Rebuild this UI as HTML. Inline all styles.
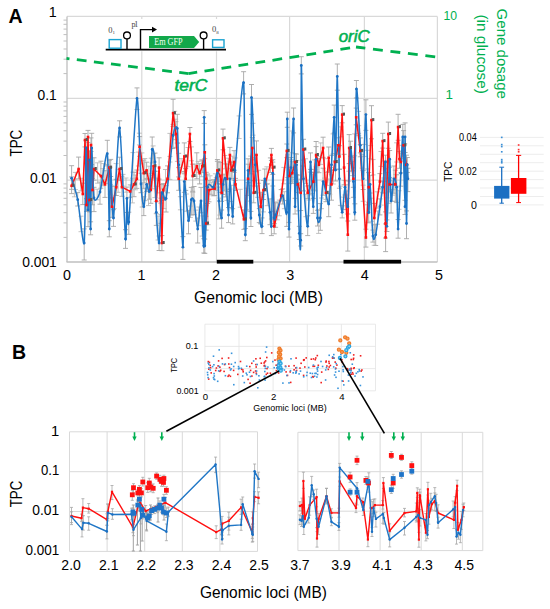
<!DOCTYPE html>
<html><head><meta charset="utf-8"><style>
html,body{margin:0;padding:0;background:#fff;}
svg{display:block;font-family:"Liberation Sans", sans-serif;}
</style></head><body>
<svg width="550" height="609" viewBox="0 0 550 609">
<rect width="550" height="609" fill="#fff"/>
<line x1="67.0" y1="16.4" x2="437.4" y2="16.4" stroke="#d9d9d9" stroke-width="1.2" />
<line x1="67.0" y1="98.3" x2="437.4" y2="98.3" stroke="#d9d9d9" stroke-width="1.2" />
<line x1="67.0" y1="180.1" x2="437.4" y2="180.1" stroke="#d9d9d9" stroke-width="1.2" />
<line x1="141.8" y1="16.4" x2="141.8" y2="262.0" stroke="#d9d9d9" stroke-width="1.2" />
<line x1="216.5" y1="16.4" x2="216.5" y2="262.0" stroke="#d9d9d9" stroke-width="1.2" />
<line x1="289.6" y1="16.4" x2="289.6" y2="262.0" stroke="#d9d9d9" stroke-width="1.2" />
<line x1="364.4" y1="16.4" x2="364.4" y2="262.0" stroke="#d9d9d9" stroke-width="1.2" />
<line x1="437.4" y1="16.4" x2="437.4" y2="262.0" stroke="#d9d9d9" stroke-width="1.2" />
<line x1="67.0" y1="16.4" x2="67.0" y2="262.0" stroke="#bfbfbf" stroke-width="1.3" />
<line x1="66.5" y1="262.0" x2="437.4" y2="262.0" stroke="#bfbfbf" stroke-width="1.3" />
<line x1="63.5" y1="73.6" x2="67.0" y2="73.6" stroke="#bfbfbf" stroke-width="1" />
<line x1="63.5" y1="59.2" x2="67.0" y2="59.2" stroke="#bfbfbf" stroke-width="1" />
<line x1="63.5" y1="49.0" x2="67.0" y2="49.0" stroke="#bfbfbf" stroke-width="1" />
<line x1="63.5" y1="41.0" x2="67.0" y2="41.0" stroke="#bfbfbf" stroke-width="1" />
<line x1="63.5" y1="34.6" x2="67.0" y2="34.6" stroke="#bfbfbf" stroke-width="1" />
<line x1="63.5" y1="29.1" x2="67.0" y2="29.1" stroke="#bfbfbf" stroke-width="1" />
<line x1="63.5" y1="24.3" x2="67.0" y2="24.3" stroke="#bfbfbf" stroke-width="1" />
<line x1="63.5" y1="20.1" x2="67.0" y2="20.1" stroke="#bfbfbf" stroke-width="1" />
<line x1="63.5" y1="155.5" x2="67.0" y2="155.5" stroke="#bfbfbf" stroke-width="1" />
<line x1="63.5" y1="141.1" x2="67.0" y2="141.1" stroke="#bfbfbf" stroke-width="1" />
<line x1="63.5" y1="130.8" x2="67.0" y2="130.8" stroke="#bfbfbf" stroke-width="1" />
<line x1="63.5" y1="122.9" x2="67.0" y2="122.9" stroke="#bfbfbf" stroke-width="1" />
<line x1="63.5" y1="116.4" x2="67.0" y2="116.4" stroke="#bfbfbf" stroke-width="1" />
<line x1="63.5" y1="110.9" x2="67.0" y2="110.9" stroke="#bfbfbf" stroke-width="1" />
<line x1="63.5" y1="106.2" x2="67.0" y2="106.2" stroke="#bfbfbf" stroke-width="1" />
<line x1="63.5" y1="102.0" x2="67.0" y2="102.0" stroke="#bfbfbf" stroke-width="1" />
<line x1="63.5" y1="237.4" x2="67.0" y2="237.4" stroke="#bfbfbf" stroke-width="1" />
<line x1="63.5" y1="222.9" x2="67.0" y2="222.9" stroke="#bfbfbf" stroke-width="1" />
<line x1="63.5" y1="212.7" x2="67.0" y2="212.7" stroke="#bfbfbf" stroke-width="1" />
<line x1="63.5" y1="204.8" x2="67.0" y2="204.8" stroke="#bfbfbf" stroke-width="1" />
<line x1="63.5" y1="198.3" x2="67.0" y2="198.3" stroke="#bfbfbf" stroke-width="1" />
<line x1="63.5" y1="192.8" x2="67.0" y2="192.8" stroke="#bfbfbf" stroke-width="1" />
<line x1="63.5" y1="188.1" x2="67.0" y2="188.1" stroke="#bfbfbf" stroke-width="1" />
<line x1="63.5" y1="183.9" x2="67.0" y2="183.9" stroke="#bfbfbf" stroke-width="1" />
<text x="56.8" y="17.0" font-size="14.3" fill="#000" text-anchor="end" >1</text>
<text x="56.8" y="100.0" font-size="14.3" fill="#000" text-anchor="end" textLength="19.2" lengthAdjust="spacingAndGlyphs" >0.1</text>
<text x="56.8" y="182.5" font-size="14.3" fill="#000" text-anchor="end" textLength="26.9" lengthAdjust="spacingAndGlyphs" >0.01</text>
<text x="56.8" y="266.8" font-size="14.3" fill="#000" text-anchor="end" textLength="34.6" lengthAdjust="spacingAndGlyphs" >0.001</text>
<text x="67.1" y="280.3" font-size="14.3" fill="#000" text-anchor="middle" >0</text>
<text x="141.5" y="280.3" font-size="14.3" fill="#000" text-anchor="middle" >1</text>
<text x="215.9" y="280.3" font-size="14.3" fill="#000" text-anchor="middle" >2</text>
<text x="290.3" y="280.3" font-size="14.3" fill="#000" text-anchor="middle" >3</text>
<text x="364.70000000000005" y="280.3" font-size="14.3" fill="#000" text-anchor="middle" >4</text>
<text x="439.1" y="280.3" font-size="14.3" fill="#000" text-anchor="middle" >5</text>
<text x="258.5" y="303.3" font-size="16.5" fill="#000" text-anchor="middle" textLength="129" lengthAdjust="spacingAndGlyphs" >Genomic loci (MB)</text>
<text x="21.9" y="143.1" font-size="15.8" fill="#000" text-anchor="middle" textLength="26.8" lengthAdjust="spacingAndGlyphs" transform="rotate(-90 21.9 143.1)" >TPC</text>
<text x="8.4" y="23.1" font-size="19.5" fill="#000" font-weight="bold" >A</text>
<rect x="216.8" y="259.8" width="36.5" height="3.8" fill="#000"/>
<rect x="343.5" y="259.8" width="57.6" height="3.8" fill="#000"/>
<text x="443.5" y="20.2" font-size="13.4" fill="#00b050" textLength="13.6" lengthAdjust="spacingAndGlyphs" >10</text>
<text x="445.4" y="99.4" font-size="13.4" fill="#00b050" >1</text>
<text x="497.3" y="53.8" font-size="15.4" fill="#00b050" text-anchor="middle" textLength="90.4" lengthAdjust="spacingAndGlyphs" transform="rotate(90 497.3 53.8)" >Gene dosage</text>
<text x="476.8" y="54.25" font-size="15" fill="#00b050" text-anchor="middle" textLength="79.5" lengthAdjust="spacingAndGlyphs" transform="rotate(90 476.8 54.25)" >(in glucose)</text>
<path d="M71.6,176.9V193.6M69.1,176.9h5M69.1,193.6h5M78.6,157.1V178.9M76.1,157.1h5M76.1,178.9h5M82.8,183.2V204.6M80.3,183.2h5M80.3,204.6h5M85.0,133.5V146.9M82.5,133.5h5M82.5,146.9h5M86.5,198.7V211.4M84.0,198.7h5M84.0,211.4h5M88.0,130.4V142.6M85.5,130.4h5M85.5,142.6h5M89.5,190.2V211.9M87.0,190.2h5M87.0,211.9h5M91.0,137.9V151.5M88.5,137.9h5M88.5,151.5h5M92.5,178.4V204.8M90.0,178.4h5M90.0,204.8h5M94.0,157.8V180.2M91.5,157.8h5M91.5,180.2h5M100.9,161.2V188.2M98.4,161.2h5M98.4,188.2h5M105.0,170.7V197.4M102.5,170.7h5M102.5,197.4h5M109.3,160.3V173.9M106.8,160.3h5M106.8,173.9h5M112.0,197.9V217.3M109.5,197.9h5M109.5,217.3h5M116.3,179.6V195.5M113.8,179.6h5M113.8,195.5h5M119.6,157.2V180.6M117.1,157.2h5M117.1,180.6h5M121.9,176.3V196.3M119.4,176.3h5M119.4,196.3h5M130.2,184.9V197.3M127.7,184.9h5M127.7,197.3h5M134.0,172.3V196.7M131.5,172.3h5M131.5,196.7h5M136.8,170.0V188.4M134.3,170.0h5M134.3,188.4h5M139.6,136.6V156.3M137.1,136.6h5M137.1,156.3h5M143.8,160.1V188.3M141.3,160.1h5M141.3,188.3h5M146.6,162.2V179.3M144.1,162.2h5M144.1,179.3h5M150.8,179.3V203.3M148.3,179.3h5M148.3,203.3h5M153.6,153.6V178.1M151.1,153.6h5M151.1,178.1h5M156.3,186.2V213.7M153.8,186.2h5M153.8,213.7h5M159.1,157.8V179.1M156.6,157.8h5M156.6,179.1h5M161.9,235.6V250.7M159.4,235.6h5M159.4,250.7h5M163.3,183.6V197.2M160.8,183.6h5M160.8,197.2h5M167.5,165.9V192.8M165.0,165.9h5M165.0,192.8h5M173.1,99.3V126.5M170.6,99.3h5M170.6,126.5h5M175.9,121.7V147.4M173.4,121.7h5M173.4,147.4h5M178.7,167.6V190.3M176.2,167.6h5M176.2,190.3h5M184.3,142.9V173.8M181.8,142.9h5M181.8,173.8h5M185.7,168.5V190.4M183.2,168.5h5M183.2,190.4h5M189.9,127.5V141.5M187.4,127.5h5M187.4,141.5h5M192.7,164.2V191.3M190.2,164.2h5M190.2,191.3h5M196.8,152.8V178.8M194.3,152.8h5M194.3,178.8h5M199.6,163.7V183.9M197.1,163.7h5M197.1,183.9h5M202.4,160.0V172.6M199.9,160.0h5M199.9,172.6h5M204.8,144.8V158.7M202.3,144.8h5M202.3,158.7h5M206.2,172.3V186.5M203.7,172.3h5M203.7,186.5h5M206.2,216.3V230.1M203.7,216.3h5M203.7,230.1h5M209.0,180.5V201.8M206.5,180.5h5M206.5,201.8h5M214.6,181.9V195.5M212.1,181.9h5M212.1,195.5h5M217.4,159.5V184.0M214.9,159.5h5M214.9,184.0h5M220.2,162.6V192.5M217.7,162.6h5M217.7,192.5h5M221.6,184.3V201.4M219.1,184.3h5M219.1,201.4h5M223.0,129.1V149.8M220.5,129.1h5M220.5,149.8h5M227.1,164.2V191.6M224.6,164.2h5M224.6,191.6h5M229.9,147.4V161.9M227.4,147.4h5M227.4,161.9h5M231.3,162.3V178.8M228.8,162.3h5M228.8,178.8h5M234.1,150.7V172.5M231.6,150.7h5M231.6,172.5h5M235.5,178.4V190.5M233.0,178.4h5M233.0,190.5h5M243.9,210.0V229.4M241.4,210.0h5M241.4,229.4h5M248.1,164.2V195.5M245.6,164.2h5M245.6,195.5h5M252.3,137.4V159.8M249.8,137.4h5M249.8,159.8h5M253.7,180.7V202.8M251.2,180.7h5M251.2,202.8h5M256.5,140.9V171.8M254.0,140.9h5M254.0,171.8h5M260.7,192.8V223.3M258.2,192.8h5M258.2,223.3h5M263.5,180.5V199.5M261.0,180.5h5M261.0,199.5h5M270.4,157.9V172.5M267.9,157.9h5M267.9,172.5h5M271.4,148.4V160.5M268.9,148.4h5M268.9,160.5h5M272.8,159.7V174.5M270.3,159.7h5M270.3,174.5h5M274.2,217.2V233.8M271.7,217.2h5M271.7,233.8h5M281.2,189.6V200.9M278.7,189.6h5M278.7,200.9h5M286.8,144.0V157.7M284.3,144.0h5M284.3,157.7h5M289.6,169.8V183.7M287.1,169.8h5M287.1,183.7h5M292.3,161.7V183.3M289.8,161.7h5M289.8,183.3h5M295.1,153.7V170.1M292.6,153.7h5M292.6,170.1h5M297.9,175.1V192.4M295.4,175.1h5M295.4,192.4h5M300.7,179.2V210.5M298.2,179.2h5M298.2,210.5h5M303.5,139.3V160.1M301.0,139.3h5M301.0,160.1h5M307.7,186.0V198.6M305.2,186.0h5M305.2,198.6h5M313.3,172.5V190.1M310.8,172.5h5M310.8,190.1h5M316.1,141.5V166.9M313.6,141.5h5M313.6,166.9h5M318.9,158.6V172.7M316.4,158.6h5M316.4,172.7h5M323.1,137.2V157.4M320.6,137.2h5M320.6,157.4h5M325.9,181.9V201.7M323.4,181.9h5M323.4,201.7h5M328.7,147.0V171.7M326.2,147.0h5M326.2,171.7h5M331.5,170.6V200.2M329.0,170.6h5M329.0,200.2h5M334.8,153.6V170.2M332.3,153.6h5M332.3,170.2h5M338.4,137.8V154.2M335.9,137.8h5M335.9,154.2h5M339.4,145.7V169.3M336.9,145.7h5M336.9,169.3h5M342.2,105.6V122.8M339.7,105.6h5M339.7,122.8h5M344.1,154.3V184.8M341.6,154.3h5M341.6,184.8h5M347.8,221.0V251.1M345.3,221.0h5M345.3,251.1h5M349.2,134.6V163.6M346.7,134.6h5M346.7,163.6h5M353.4,170.8V187.3M350.9,170.8h5M350.9,187.3h5M356.2,108.1V124.8M353.7,108.1h5M353.7,124.8h5M360.3,144.6V156.8M357.8,144.6h5M357.8,156.8h5M365.9,229.2V247.1M363.4,229.2h5M363.4,247.1h5M368.7,172.6V202.2M366.2,172.6h5M366.2,202.2h5M371.5,105.7V138.8M369.0,105.7h5M369.0,138.8h5M374.3,203.4V232.3M371.8,203.4h5M371.8,232.3h5M379.9,173.6V188.9M377.4,173.6h5M377.4,188.9h5M382.7,133.3V148.1M380.2,133.3h5M380.2,148.1h5M385.5,211.9V238.0M383.0,211.9h5M383.0,238.0h5M385.6,223.9V251.6M383.1,223.9h5M383.1,251.6h5M388.3,122.1V148.3M385.8,122.1h5M385.8,148.3h5M389.7,177.6V192.0M387.2,177.6h5M387.2,192.0h5M395.3,170.2V201.3M392.8,170.2h5M392.8,201.3h5M398.1,114.3V140.3M395.6,114.3h5M395.6,140.3h5M399.5,151.6V168.3M397.0,151.6h5M397.0,168.3h5M400.8,153.0V172.8M398.3,153.0h5M398.3,172.8h5M403.6,130.6V160.0M401.1,130.6h5M401.1,160.0h5M406.4,155.2V177.0M403.9,155.2h5M403.9,177.0h5" stroke="#a6a6a6" stroke-width="0.9" fill="none"/>
<path d="M71.6,165.7V189.3M69.1,165.7h5M69.1,189.3h5M77.7,192.6V206.0M75.2,192.6h5M75.2,206.0h5M84.2,228.9V260.0M81.7,228.9h5M81.7,260.0h5M86.1,140.7V156.9M83.6,140.7h5M83.6,156.9h5M88.0,195.2V226.7M85.5,195.2h5M85.5,226.7h5M89.5,150.8V169.8M87.0,150.8h5M87.0,169.8h5M90.6,221.8V234.8M88.1,221.8h5M88.1,234.8h5M91.7,133.3V164.6M89.2,133.3h5M89.2,164.6h5M94.0,187.3V211.6M91.5,187.3h5M91.5,211.6h5M100.0,182.1V204.2M97.5,182.1h5M97.5,204.2h5M107.3,140.3V165.9M104.8,140.3h5M104.8,165.9h5M109.3,220.7V236.8M106.8,220.7h5M106.8,236.8h5M110.7,159.4V176.5M108.2,159.4h5M108.2,176.5h5M113.5,209.7V226.4M111.0,209.7h5M111.0,226.4h5M119.6,120.8V137.0M117.1,120.8h5M117.1,137.0h5M125.5,229.7V248.4M123.0,229.7h5M123.0,248.4h5M126.9,187.1V212.5M124.4,187.1h5M124.4,212.5h5M128.8,212.2V234.3M126.3,212.2h5M126.3,234.3h5M137.0,87.9V109.6M134.5,87.9h5M134.5,109.6h5M141.0,173.3V192.7M138.5,173.3h5M138.5,192.7h5M143.8,196.7V215.6M141.3,196.7h5M141.3,215.6h5M146.6,178.4V191.6M144.1,178.4h5M144.1,191.6h5M149.4,183.8V199.2M146.9,183.8h5M146.9,199.2h5M152.2,137.0V163.0M149.7,137.0h5M149.7,163.0h5M155.0,153.1V171.5M152.5,153.1h5M152.5,171.5h5M156.3,201.3V225.4M153.8,201.3h5M153.8,225.4h5M159.1,236.0V250.5M156.6,236.0h5M156.6,250.5h5M161.9,184.6V200.5M159.4,184.6h5M159.4,200.5h5M166.1,185.4V212.0M163.6,185.4h5M163.6,212.0h5M173.1,124.4V148.5M170.6,124.4h5M170.6,148.5h5M177.3,114.3V143.0M174.8,114.3h5M174.8,143.0h5M178.7,153.3V176.9M176.2,153.3h5M176.2,176.9h5M182.9,236.6V259.4M180.4,236.6h5M180.4,259.4h5M184.3,171.5V192.3M181.8,171.5h5M181.8,192.3h5M188.5,210.4V233.8M186.0,210.4h5M186.0,233.8h5M191.3,187.4V214.9M188.8,187.4h5M188.8,214.9h5M194.0,186.5V214.5M191.5,186.5h5M191.5,214.5h5M197.7,218.0V243.0M195.2,218.0h5M195.2,243.0h5M201.0,187.4V212.8M198.5,187.4h5M198.5,212.8h5M203.8,238.7V253.0M201.3,238.7h5M201.3,253.0h5M204.2,110.6V123.4M201.7,110.6h5M201.7,123.4h5M204.8,239.1V253.4M202.3,239.1h5M202.3,253.4h5M207.6,174.1V203.5M205.1,174.1h5M205.1,203.5h5M213.2,179.8V195.8M210.7,179.8h5M210.7,195.8h5M217.4,161.3V183.6M214.9,161.3h5M214.9,183.6h5M218.8,187.1V218.9M216.3,187.1h5M216.3,218.9h5M221.6,210.0V228.2M219.1,210.0h5M219.1,228.2h5M223.0,174.8V194.4M220.5,174.8h5M220.5,194.4h5M225.7,163.9V196.9M223.2,163.9h5M223.2,196.9h5M228.5,207.5V222.6M226.0,207.5h5M226.0,222.6h5M229.9,168.2V189.1M227.4,168.2h5M227.4,189.1h5M232.7,208.7V223.9M230.2,208.7h5M230.2,223.9h5M235.0,157.9V180.5M232.5,157.9h5M232.5,180.5h5M243.6,71.7V93.9M241.1,71.7h5M241.1,93.9h5M245.3,228.5V240.7M242.8,228.5h5M242.8,240.7h5M248.1,158.8V182.7M245.6,158.8h5M245.6,182.7h5M250.9,211.4V226.5M248.4,211.4h5M248.4,226.5h5M251.5,84.5V114.4M249.0,84.5h5M249.0,114.4h5M255.1,157.9V171.3M252.6,157.9h5M252.6,171.3h5M259.3,208.6V222.6M256.8,208.6h5M256.8,222.6h5M262.0,217.9V233.6M259.5,217.9h5M259.5,233.6h5M264.8,169.0V191.1M262.3,169.0h5M262.3,191.1h5M270.0,198.9V224.7M267.5,198.9h5M267.5,224.7h5M271.4,219.0V235.6M268.9,219.0h5M268.9,235.6h5M272.8,162.1V186.0M270.3,162.1h5M270.3,186.0h5M274.2,211.2V223.6M271.7,211.2h5M271.7,223.6h5M275.6,202.8V227.3M273.1,202.8h5M273.1,227.3h5M282.6,188.9V204.0M280.1,188.9h5M280.1,204.0h5M286.8,200.6V226.4M284.3,200.6h5M284.3,226.4h5M287.3,112.2V127.3M284.8,112.2h5M284.8,127.3h5M289.0,222.4V237.1M286.5,222.4h5M286.5,237.1h5M291.0,157.5V177.4M288.5,157.5h5M288.5,177.4h5M293.6,108.0V132.9M291.1,108.0h5M291.1,132.9h5M295.1,198.3V214.0M292.6,198.3h5M292.6,214.0h5M296.5,154.1V174.7M294.0,154.1h5M294.0,174.7h5M299.3,226.3V239.5M296.8,226.3h5M296.8,239.5h5M300.7,233.7V246.0M298.2,233.7h5M298.2,246.0h5M301.3,56.7V73.9M298.8,56.7h5M298.8,73.9h5M303.5,166.0V190.9M301.0,166.0h5M301.0,190.9h5M307.7,215.8V235.6M305.2,215.8h5M305.2,235.6h5M310.5,152.9V169.4M308.0,152.9h5M308.0,169.4h5M313.3,198.4V213.4M310.8,198.4h5M310.8,213.4h5M316.1,146.6V172.7M313.6,146.6h5M313.6,172.7h5M317.5,210.3V226.0M315.0,210.3h5M315.0,226.0h5M320.3,203.6V230.3M317.8,203.6h5M317.8,230.3h5M323.1,168.2V195.2M320.6,168.2h5M320.6,195.2h5M328.7,193.5V216.7M326.2,193.5h5M326.2,216.7h5M331.5,155.3V174.8M329.0,155.3h5M329.0,174.8h5M334.2,105.1V133.0M331.7,105.1h5M331.7,133.0h5M335.5,160.9V181.0M333.0,160.9h5M333.0,181.0h5M337.3,64.0V90.2M334.8,64.0h5M334.8,90.2h5M339.4,169.2V188.2M336.9,169.2h5M336.9,188.2h5M342.2,205.8V217.9M339.7,205.8h5M339.7,217.9h5M345.0,180.6V195.0M342.5,180.6h5M342.5,195.0h5M347.8,198.4V214.0M345.3,198.4h5M345.3,214.0h5M350.6,141.2V156.3M348.1,141.2h5M348.1,156.3h5M353.4,167.8V197.3M350.9,167.8h5M350.9,197.3h5M354.8,203.8V220.2M352.3,203.8h5M352.3,220.2h5M356.4,80.5V98.0M353.9,80.5h5M353.9,98.0h5M360.3,137.9V152.9M357.8,137.9h5M357.8,152.9h5M363.1,170.4V189.5M360.6,170.4h5M360.6,189.5h5M365.9,99.8V130.4M363.4,99.8h5M363.4,130.4h5M368.7,204.1V222.8M366.2,204.1h5M366.2,222.8h5M370.1,175.6V193.0M367.6,175.6h5M367.6,193.0h5M372.9,230.1V242.1M370.4,230.1h5M370.4,242.1h5M375.7,224.4V245.5M373.2,224.4h5M373.2,245.5h5M379.9,198.9V214.9M377.4,198.9h5M377.4,214.9h5M382.7,181.2V192.8M380.2,181.2h5M380.2,192.8h5M385.5,155.2V168.8M383.0,155.2h5M383.0,168.8h5M386.9,219.9V231.5M384.4,219.9h5M384.4,231.5h5M389.7,150.5V167.2M387.2,150.5h5M387.2,167.2h5M391.1,189.7V213.0M388.6,189.7h5M388.6,213.0h5M393.9,166.0V193.2M391.4,166.0h5M391.4,193.2h5M396.7,174.8V202.6M394.2,174.8h5M394.2,202.6h5M398.1,219.5V238.2M395.6,219.5h5M395.6,238.2h5M400.8,158.3V186.2M398.3,158.3h5M398.3,186.2h5M402.8,124.4V150.9M400.3,124.4h5M400.3,150.9h5M405.0,200.3V214.5M402.5,200.3h5M402.5,214.5h5M405.1,122.9V152.5M402.6,122.9h5M402.6,152.5h5M406.5,210.9V238.7M404.0,210.9h5M404.0,238.7h5M407.3,157.5V172.5M404.8,157.5h5M404.8,172.5h5M407.9,168.3V191.6M405.4,168.3h5M405.4,191.6h5" stroke="#a6a6a6" stroke-width="0.9" fill="none"/>
<path d="M75.4,172.4V189.6M72.9,172.4h5M72.9,189.6h5M80.8,178.3V190.9M78.3,178.3h5M78.3,190.9h5M97.6,162.8V183.2M95.1,162.8h5M95.1,183.2h5M102.7,168.6V185.9M100.2,168.6h5M100.2,185.9h5M106.8,164.5V183.4M104.3,164.5h5M104.3,183.4h5M110.3,184.6V194.2M107.8,184.6h5M107.8,194.2h5M114.2,186.5V208.6M111.7,186.5h5M111.7,208.6h5M118.1,169.3V192.3M115.6,169.3h5M115.6,192.3h5M126.0,178.0V192.2M123.5,178.0h5M123.5,192.2h5M132.4,178.2V202.9M129.9,178.2h5M129.9,202.9h5M135.4,175.0V189.8M132.9,175.0h5M132.9,189.8h5M138.4,152.1V166.0M135.9,152.1h5M135.9,166.0h5M141.9,152.9V163.9M139.4,152.9h5M139.4,163.9h5M144.8,158.5V182.7M142.3,158.5h5M142.3,182.7h5M148.9,166.2V187.3M146.4,166.2h5M146.4,187.3h5M152.4,175.3V188.8M149.9,175.3h5M149.9,188.8h5M154.9,171.0V197.6M152.4,171.0h5M152.4,197.6h5M157.7,178.1V192.9M155.2,178.1h5M155.2,192.9h5M160.8,198.2V214.6M158.3,198.2h5M158.3,214.6h5M165.5,169.5V191.3M163.0,169.5h5M163.0,191.3h5M169.9,133.4V156.4M167.4,133.4h5M167.4,156.4h5M174.7,111.3V134.8M172.2,111.3h5M172.2,134.8h5M177.4,143.2V161.4M174.9,143.2h5M174.9,161.4h5M181.1,158.6V172.9M178.6,158.6h5M178.6,172.9h5M188.0,147.5V166.7M185.5,147.5h5M185.5,166.7h5M191.5,146.9V160.8M189.0,146.9h5M189.0,160.8h5M194.8,164.1V176.4M192.3,164.1h5M192.3,176.4h5M198.2,161.4V172.3M195.7,161.4h5M195.7,172.3h5M201.4,160.0V176.7M198.9,160.0h5M198.9,176.7h5M208.1,199.1V224.7M205.6,199.1h5M205.6,224.7h5M211.3,182.1V194.7M208.8,182.1h5M208.8,194.7h5M216.3,177.6V189.2M213.8,177.6h5M213.8,189.2h5M218.7,161.4V181.6M216.2,161.4h5M216.2,181.6h5M224.8,155.5V168.8M222.3,155.5h5M222.3,168.8h5M228.2,158.2V178.2M225.7,158.2h5M225.7,178.2h5M232.3,156.2V178.9M229.8,156.2h5M229.8,178.9h5M240.2,189.3V207.2M237.7,189.3h5M237.7,207.2h5M246.3,188.2V209.4M243.8,188.2h5M243.8,209.4h5M250.6,156.1V173.9M248.1,156.1h5M248.1,173.9h5M254.8,166.9V186.2M252.3,166.9h5M252.3,186.2h5M258.6,170.3V183.3M256.1,170.3h5M256.1,183.3h5M261.6,192.2V205.8M259.1,192.2h5M259.1,205.8h5M266.9,166.8V184.5M264.4,166.8h5M264.4,184.5h5M277.3,201.9V219.8M274.8,201.9h5M274.8,219.8h5M283.8,167.4V183.8M281.3,167.4h5M281.3,183.8h5M287.7,154.8V177.5M285.2,154.8h5M285.2,177.5h5M291.3,159.6V181.7M288.8,159.6h5M288.8,181.7h5M294.1,161.0V179.4M291.6,161.0h5M291.6,179.4h5M296.9,160.6V185.2M294.4,160.6h5M294.4,185.2h5M299.2,182.5V192.7M296.7,182.5h5M296.7,192.7h5M302.6,166.0V177.1M300.1,166.0h5M300.1,177.1h5M305.5,158.8V183.5M303.0,158.8h5M303.0,183.5h5M310.3,172.1V194.9M307.8,172.1h5M307.8,194.9h5M314.3,159.9V182.3M311.8,159.9h5M311.8,182.3h5M317.3,156.6V171.5M314.8,156.6h5M314.8,171.5h5M320.7,142.9V164.4M318.2,142.9h5M318.2,164.4h5M324.5,158.7V178.1M322.0,158.7h5M322.0,178.1h5M327.2,172.4V185.4M324.7,172.4h5M324.7,185.4h5M330.5,167.6V179.0M328.0,167.6h5M328.0,179.0h5M333.3,169.7V184.0M330.8,169.7h5M330.8,184.0h5M337.0,144.5V162.7M334.5,144.5h5M334.5,162.7h5M341.0,126.9V136.8M338.5,126.9h5M338.5,136.8h5M346.2,191.0V209.5M343.7,191.0h5M343.7,209.5h5M351.6,157.4V171.0M349.1,157.4h5M349.1,171.0h5M354.6,133.9V155.8M352.1,133.9h5M352.1,155.8h5M358.7,125.7V135.7M356.2,125.7h5M356.2,135.7h5M363.1,185.2V201.3M360.6,185.2h5M360.6,201.3h5M367.1,204.8V222.3M364.6,204.8h5M364.6,222.3h5M370.6,145.6V158.8M368.1,145.6h5M368.1,158.8h5M373.1,159.6V174.9M370.6,159.6h5M370.6,174.9h5M377.2,191.8V208.1M374.7,191.8h5M374.7,208.1h5M381.0,151.5V166.4M378.5,151.5h5M378.5,166.4h5M383.8,178.0V193.1M381.3,178.0h5M381.3,193.1h5M386.9,172.5V197.9M384.4,172.5h5M384.4,197.9h5M392.9,180.8V195.2M390.4,180.8h5M390.4,195.2h5M396.6,142.8V162.0M394.1,142.8h5M394.1,162.0h5M401.9,145.3V156.7M399.4,145.3h5M399.4,156.7h5M404.8,143.8V161.4M402.3,143.8h5M402.3,161.4h5M74.4,179.2V196.8M71.9,179.2h5M71.9,196.8h5M81.0,216.2V231.7M78.5,216.2h5M78.5,231.7h5M97.2,189.2V199.8M94.7,189.2h5M94.7,199.8h5M103.6,163.6V184.9M101.1,163.6h5M101.1,184.9h5M112.0,185.9V197.8M109.5,185.9h5M109.5,197.8h5M116.1,163.6V179.2M113.6,163.6h5M113.6,179.2h5M123.0,174.4V186.1M120.5,174.4h5M120.5,186.1h5M132.9,152.6V172.2M130.4,152.6h5M130.4,172.2h5M139.4,133.2V144.9M136.9,133.2h5M136.9,144.9h5M142.2,182.7V207.0M139.7,182.7h5M139.7,207.0h5M145.1,188.7V200.6M142.6,188.7h5M142.6,200.6h5M148.5,179.1V205.6M146.0,179.1h5M146.0,205.6h5M151.2,158.2V173.6M148.7,158.2h5M148.7,173.6h5M153.1,145.9V168.8M150.6,145.9h5M150.6,168.8h5M158.1,216.1V240.0M155.6,216.1h5M155.6,240.0h5M160.6,203.1V223.4M158.1,203.1h5M158.1,223.4h5M163.9,188.5V208.6M161.4,188.5h5M161.4,208.6h5M169.9,162.0V179.4M167.4,162.0h5M167.4,179.4h5M175.7,119.2V139.6M173.2,119.2h5M173.2,139.6h5M180.4,196.7V209.8M177.9,196.7h5M177.9,209.8h5M186.4,194.0V211.2M183.9,194.0h5M183.9,211.2h5M190.3,206.1V217.4M187.8,206.1h5M187.8,217.4h5M192.8,192.4V215.0M190.3,192.4h5M190.3,215.0h5M195.8,210.1V221.1M193.3,210.1h5M193.3,221.1h5M198.9,207.0V225.7M196.4,207.0h5M196.4,225.7h5M202.1,215.9V236.1M199.6,215.9h5M199.6,236.1h5M206.3,205.7V224.8M203.8,205.7h5M203.8,224.8h5M210.0,175.8V194.2M207.5,175.8h5M207.5,194.2h5M215.4,173.8V190.5M212.9,173.8h5M212.9,190.5h5M219.8,198.1V215.1M217.3,198.1h5M217.3,215.1h5M224.4,174.1V190.5M221.9,174.1h5M221.9,190.5h5M227.0,189.5V200.4M224.5,189.5h5M224.5,200.4h5M231.4,185.3V201.5M228.9,185.3h5M228.9,201.5h5M239.1,115.9V138.5M236.6,115.9h5M236.6,138.5h5M247.2,195.5V211.0M244.7,195.5h5M244.7,211.0h5M249.9,185.7V201.1M247.4,185.7h5M247.4,201.1h5M253.0,123.3V135.2M250.5,123.3h5M250.5,135.2h5M257.7,185.9V197.3M255.2,185.9h5M255.2,197.3h5M260.5,208.3V223.9M258.0,208.3h5M258.0,223.9h5M263.4,194.5V211.9M260.9,194.5h5M260.9,211.9h5M267.3,183.5V205.7M264.8,183.5h5M264.8,205.7h5M279.3,200.1V215.8M276.8,200.1h5M276.8,215.8h5M284.4,191.7V208.7M281.9,191.7h5M281.9,208.7h5M292.1,131.0V152.8M289.6,131.0h5M289.6,152.8h5M298.1,185.6V210.9M295.6,185.6h5M295.6,210.9h5M305.9,194.3V216.7M303.4,194.3h5M303.4,216.7h5M309.1,185.4V200.0M306.6,185.4h5M306.6,200.0h5M312.4,174.4V193.6M309.9,174.4h5M309.9,193.6h5M315.0,169.4V190.9M312.5,169.4h5M312.5,190.9h5M318.6,209.6V233.4M316.1,209.6h5M316.1,233.4h5M321.5,198.0V208.7M319.0,198.0h5M319.0,208.7h5M325.9,180.0V199.4M323.4,180.0h5M323.4,199.4h5M329.8,172.5V194.3M327.3,172.5h5M327.3,194.3h5M333.0,133.9V154.0M330.5,133.9h5M330.5,154.0h5M340.4,186.2V205.4M337.9,186.2h5M337.9,205.4h5M343.3,197.1V209.6M340.8,197.1h5M340.8,209.6h5M346.0,184.8V201.6M343.5,184.8h5M343.5,201.6h5M348.8,171.2V181.2M346.3,171.2h5M346.3,181.2h5M352.4,161.7V175.6M349.9,161.7h5M349.9,175.6h5M358.6,111.4V133.4M356.1,111.4h5M356.1,133.4h5M362.1,154.5V168.1M359.6,154.5h5M359.6,168.1h5M364.2,144.4V156.4M361.7,144.4h5M361.7,156.4h5M367.5,150.3V169.0M365.0,150.3h5M365.0,169.0h5M371.7,198.2V221.3M369.2,198.2h5M369.2,221.3h5M374.2,225.0V245.3M371.7,225.0h5M371.7,245.3h5M377.5,211.0V224.2M375.0,211.0h5M375.0,224.2h5M381.1,186.4V205.1M378.6,186.4h5M378.6,205.1h5M384.6,161.0V181.5M382.1,161.0h5M382.1,181.5h5M388.8,178.5V203.4M386.3,178.5h5M386.3,203.4h5M392.4,185.0V201.4M389.9,185.0h5M389.9,201.4h5M395.6,174.4V189.7M393.1,174.4h5M393.1,189.7h5M399.0,190.7V209.3M396.5,190.7h5M396.5,209.3h5" stroke="#b4b4b4" stroke-width="0.8" fill="none"/>
<polyline points="71.6,185.8 78.6,169.0 82.8,194.0 85.0,140.0 86.5,205.0 88.0,137.0 89.5,200.0 91.0,145.0 92.5,190.0 94.0,169.0 100.9,176.0 105.0,184.4 109.3,167.6 112.0,206.7 116.3,187.2 119.6,169.0 121.9,187.2 130.2,191.4 134.0,184.4 136.8,178.8 139.6,146.7 143.8,173.2 146.6,170.4 150.8,190.0 153.6,166.2 156.3,201.0 159.1,167.6 161.9,243.0 163.3,190.0 167.5,178.8 173.1,113.2 175.9,134.0 178.7,178.8 184.3,156.5 185.7,178.8 189.9,134.0 192.7,176.0 196.8,166.2 199.6,173.2 202.4,166.2 204.8,152.3 206.2,178.8 206.2,223.5 209.0,190.0 214.6,188.6 217.4,170.4 220.2,176.0 221.6,192.8 223.0,138.3 227.1,178.8 229.9,155.0 231.3,170.4 234.1,162.0 235.5,184.4 243.9,219.3 248.1,178.8 252.3,148.0 253.7,192.8 256.5,155.0 260.7,206.7 263.5,190.0 270.4,164.8 271.4,155.0 272.8,167.6 274.2,226.3 281.2,195.6 286.8,150.9 289.6,176.0 292.3,173.2 295.1,162.0 297.9,184.4 300.7,192.8 303.5,149.5 307.7,192.8 313.3,181.6 316.1,155.0 318.9,164.8 323.1,148.0 325.9,192.8 328.7,157.8 331.5,184.4 334.8,162.0 338.4,145.3 339.4,156.5 342.2,114.6 344.1,167.6 347.8,234.7 349.2,148.0 353.4,178.8 356.2,117.3 360.3,150.9 365.9,237.5 368.7,187.2 371.5,120.1 374.3,218.0 379.9,181.6 382.7,141.1 385.5,223.5 385.6,237.5 388.3,134.0 389.7,184.4 395.3,184.4 398.1,127.1 399.5,159.2 400.8,162.0 403.6,145.3 406.4,164.8" fill="none" stroke="#ff1010" stroke-width="1.5" stroke-linejoin="round"/>
<path d="M71.6,178.2 C72.4,180.9 76.1,191.6 77.7,199.7 C79.3,207.8 83.2,249.5 84.2,243.0 C85.2,236.5 85.6,152.1 86.1,148.0 C86.6,143.9 87.6,208.5 88.0,210.0 C88.4,211.5 89.2,157.6 89.5,160.0 C89.8,162.4 90.3,230.5 90.6,229.0 C90.9,227.5 91.3,151.9 91.7,148.0 C92.1,144.1 93.0,192.5 94.0,198.0 C95.0,203.5 98.3,197.5 100.0,192.0 C101.7,186.5 106.1,149.1 107.3,153.7 C108.5,158.3 108.9,227.3 109.3,229.0 C109.7,230.7 110.2,169.0 110.7,167.6 C111.2,166.2 112.4,222.9 113.5,218.0 C114.6,213.1 118.1,125.4 119.6,128.0 C121.1,130.6 124.6,230.1 125.5,238.9 C126.4,247.7 126.5,200.5 126.9,198.4 C127.3,196.3 127.5,234.5 128.8,222.0 C130.1,209.5 135.5,103.2 137.0,98.4 C138.5,93.7 140.2,170.5 141.0,184.0 C141.8,197.5 143.1,206.6 143.8,206.7 C144.5,206.8 145.9,186.3 146.6,184.4 C147.3,182.5 148.7,195.8 149.4,191.4 C150.1,187.0 151.5,153.2 152.2,149.5 C152.9,145.8 154.5,154.2 155.0,162.0 C155.5,169.8 155.8,202.2 156.3,212.3 C156.8,222.4 158.4,245.4 159.1,243.0 C159.8,240.6 161.0,198.4 161.9,192.8 C162.8,187.2 164.7,205.6 166.1,198.4 C167.5,191.2 171.7,144.2 173.1,135.5 C174.5,126.8 176.6,124.8 177.3,128.5 C178.0,132.2 178.0,150.0 178.7,164.8 C179.4,179.6 182.2,245.1 182.9,247.2 C183.6,249.3 183.6,184.9 184.3,181.6 C185.0,178.3 187.6,218.4 188.5,220.7 C189.4,223.0 190.6,202.2 191.3,199.7 C192.0,197.2 193.2,197.3 194.0,201.0 C194.8,204.7 196.8,229.0 197.7,229.0 C198.6,229.0 200.2,198.9 201.0,201.0 C201.8,203.1 203.4,256.3 203.8,245.8 C204.2,235.3 204.1,117.3 204.2,117.3 C204.3,117.3 204.4,237.1 204.8,245.8 C205.2,254.5 206.6,194.5 207.6,187.2 C208.6,179.9 212.0,188.9 213.2,187.2 C214.4,185.4 216.7,171.5 217.4,173.2 C218.1,174.9 218.3,195.4 218.8,201.0 C219.3,206.6 221.1,220.1 221.6,218.0 C222.1,215.9 222.5,189.3 223.0,184.4 C223.5,179.5 225.0,175.0 225.7,178.8 C226.4,182.6 228.0,215.0 228.5,215.0 C229.0,215.0 229.4,178.6 229.9,178.8 C230.4,179.0 232.1,217.6 232.7,216.5 C233.3,215.4 233.6,187.1 235.0,170.4 C236.4,153.7 242.3,74.7 243.6,82.7 C244.9,90.7 244.7,223.7 245.3,234.7 C245.9,245.7 247.4,172.5 248.1,170.4 C248.8,168.3 250.5,227.1 250.9,218.0 C251.3,208.9 251.0,104.2 251.5,97.6 C252.0,90.9 254.1,150.1 255.1,164.8 C256.1,179.5 258.4,207.3 259.3,215.0 C260.2,222.7 261.3,230.8 262.0,226.3 C262.7,221.8 263.8,180.6 264.8,178.8 C265.8,177.1 269.2,206.4 270.0,212.3 C270.8,218.2 271.0,231.2 271.4,226.3 C271.8,221.4 272.4,174.2 272.8,173.2 C273.2,172.2 273.8,212.8 274.2,218.0 C274.6,223.2 274.6,217.8 275.6,215.0 C276.7,212.2 281.2,195.9 282.6,195.6 C284.0,195.3 286.2,221.9 286.8,212.3 C287.4,202.7 287.0,116.9 287.3,119.0 C287.6,121.1 288.5,222.9 289.0,229.0 C289.5,235.1 290.4,181.3 291.0,167.6 C291.6,153.8 293.1,114.1 293.6,119.0 C294.1,123.9 294.7,201.0 295.1,206.7 C295.5,212.4 296.0,161.5 296.5,164.8 C297.0,168.1 298.8,223.9 299.3,233.3 C299.8,242.7 300.4,261.2 300.7,240.2 C300.9,219.2 300.9,73.2 301.3,65.5 C301.7,57.8 302.7,158.7 303.5,178.8 C304.3,198.9 306.8,228.4 307.7,226.3 C308.6,224.2 309.8,164.4 310.5,162.0 C311.2,159.6 312.6,207.0 313.3,206.7 C314.0,206.3 315.6,157.8 316.1,159.2 C316.6,160.6 317.0,210.7 317.5,218.0 C318.0,225.3 319.6,222.6 320.3,218.0 C321.0,213.4 322.1,183.3 323.1,181.6 C324.2,179.8 327.6,206.1 328.7,204.0 C329.8,201.9 330.8,175.6 331.5,164.8 C332.2,154.0 333.7,116.7 334.2,117.3 C334.7,117.9 335.1,175.1 335.5,170.0 C335.9,164.9 336.8,75.3 337.3,76.4 C337.8,77.5 338.8,161.8 339.4,178.8 C340.0,195.8 341.5,211.2 342.2,212.3 C342.9,213.4 344.3,187.9 345.0,187.2 C345.7,186.5 347.1,211.6 347.8,206.7 C348.5,201.8 349.9,151.1 350.6,148.0 C351.3,144.9 352.9,173.6 353.4,181.6 C353.9,189.6 354.4,223.9 354.8,212.3 C355.2,200.7 355.7,97.5 356.4,89.1 C357.1,80.7 359.5,134.1 360.3,145.3 C361.1,156.5 362.4,182.6 363.1,178.8 C363.8,175.0 365.2,110.4 365.9,114.6 C366.6,118.8 368.2,203.6 368.7,212.3 C369.2,221.0 369.6,181.4 370.1,184.4 C370.6,187.4 372.2,229.8 372.9,236.1 C373.6,242.4 374.8,238.4 375.7,234.7 C376.6,231.0 379.0,212.6 379.9,206.7 C380.8,200.8 382.0,192.8 382.7,187.2 C383.4,181.6 385.0,157.1 385.5,162.0 C386.0,166.9 386.4,226.7 386.9,226.3 C387.4,226.0 389.2,162.4 389.7,159.2 C390.2,156.0 390.6,198.6 391.1,201.0 C391.6,203.4 393.2,180.5 393.9,178.8 C394.6,177.1 396.2,180.9 396.7,187.2 C397.2,193.5 397.6,230.8 398.1,229.0 C398.6,227.2 400.2,184.7 400.8,173.2 C401.4,161.7 402.3,132.7 402.8,136.9 C403.3,141.1 404.7,206.7 405.0,206.7 C405.3,206.7 404.9,134.8 405.1,136.9 C405.3,139.0 406.2,220.0 406.5,223.5 C406.8,227.0 407.1,170.4 407.3,164.8 C407.5,159.2 407.8,177.1 407.9,178.8" fill="none" stroke="#1f76c6" stroke-width="1.5" stroke-linejoin="round"/>
<g fill="#ff1010"><rect x="70.3" y="184.5" width="2.6" height="2.6"/><rect x="77.3" y="167.7" width="2.6" height="2.6"/><rect x="81.5" y="192.7" width="2.6" height="2.6"/><rect x="83.7" y="138.7" width="2.6" height="2.6"/><rect x="85.2" y="203.7" width="2.6" height="2.6"/><rect x="86.7" y="135.7" width="2.6" height="2.6"/><rect x="88.2" y="198.7" width="2.6" height="2.6"/><rect x="89.7" y="143.7" width="2.6" height="2.6"/><rect x="91.2" y="188.7" width="2.6" height="2.6"/><rect x="92.7" y="167.7" width="2.6" height="2.6"/><rect x="99.6" y="174.7" width="2.6" height="2.6"/><rect x="103.7" y="183.1" width="2.6" height="2.6"/><rect x="108.0" y="166.3" width="2.6" height="2.6"/><rect x="110.7" y="205.4" width="2.6" height="2.6"/><rect x="115.0" y="185.9" width="2.6" height="2.6"/><rect x="118.3" y="167.7" width="2.6" height="2.6"/><rect x="120.6" y="185.9" width="2.6" height="2.6"/><rect x="128.9" y="190.1" width="2.6" height="2.6"/><rect x="132.7" y="183.1" width="2.6" height="2.6"/><rect x="135.5" y="177.5" width="2.6" height="2.6"/><rect x="138.3" y="145.4" width="2.6" height="2.6"/><rect x="142.5" y="171.9" width="2.6" height="2.6"/><rect x="145.3" y="169.1" width="2.6" height="2.6"/><rect x="149.5" y="188.7" width="2.6" height="2.6"/><rect x="152.3" y="164.9" width="2.6" height="2.6"/><rect x="155.0" y="199.7" width="2.6" height="2.6"/><rect x="157.8" y="166.3" width="2.6" height="2.6"/><rect x="160.6" y="241.7" width="2.6" height="2.6"/><rect x="162.0" y="188.7" width="2.6" height="2.6"/><rect x="166.2" y="177.5" width="2.6" height="2.6"/><rect x="171.8" y="111.9" width="2.6" height="2.6"/><rect x="174.6" y="132.7" width="2.6" height="2.6"/><rect x="177.4" y="177.5" width="2.6" height="2.6"/><rect x="183.0" y="155.2" width="2.6" height="2.6"/><rect x="184.4" y="177.5" width="2.6" height="2.6"/><rect x="188.6" y="132.7" width="2.6" height="2.6"/><rect x="191.4" y="174.7" width="2.6" height="2.6"/><rect x="195.5" y="164.9" width="2.6" height="2.6"/><rect x="198.3" y="171.9" width="2.6" height="2.6"/><rect x="201.1" y="164.9" width="2.6" height="2.6"/><rect x="203.5" y="151.0" width="2.6" height="2.6"/><rect x="204.9" y="177.5" width="2.6" height="2.6"/><rect x="204.9" y="222.2" width="2.6" height="2.6"/><rect x="207.7" y="188.7" width="2.6" height="2.6"/><rect x="213.3" y="187.3" width="2.6" height="2.6"/><rect x="216.1" y="169.1" width="2.6" height="2.6"/><rect x="218.9" y="174.7" width="2.6" height="2.6"/><rect x="220.3" y="191.5" width="2.6" height="2.6"/><rect x="221.7" y="137.0" width="2.6" height="2.6"/><rect x="225.8" y="177.5" width="2.6" height="2.6"/><rect x="228.6" y="153.7" width="2.6" height="2.6"/><rect x="230.0" y="169.1" width="2.6" height="2.6"/><rect x="232.8" y="160.7" width="2.6" height="2.6"/><rect x="234.2" y="183.1" width="2.6" height="2.6"/><rect x="242.6" y="218.0" width="2.6" height="2.6"/><rect x="246.8" y="177.5" width="2.6" height="2.6"/><rect x="251.0" y="146.7" width="2.6" height="2.6"/><rect x="252.4" y="191.5" width="2.6" height="2.6"/><rect x="255.2" y="153.7" width="2.6" height="2.6"/><rect x="259.4" y="205.4" width="2.6" height="2.6"/><rect x="262.2" y="188.7" width="2.6" height="2.6"/><rect x="269.1" y="163.5" width="2.6" height="2.6"/><rect x="270.1" y="153.7" width="2.6" height="2.6"/><rect x="271.5" y="166.3" width="2.6" height="2.6"/><rect x="272.9" y="225.0" width="2.6" height="2.6"/><rect x="279.9" y="194.3" width="2.6" height="2.6"/><rect x="285.5" y="149.6" width="2.6" height="2.6"/><rect x="288.3" y="174.7" width="2.6" height="2.6"/><rect x="291.0" y="171.9" width="2.6" height="2.6"/><rect x="293.8" y="160.7" width="2.6" height="2.6"/><rect x="296.6" y="183.1" width="2.6" height="2.6"/><rect x="299.4" y="191.5" width="2.6" height="2.6"/><rect x="302.2" y="148.2" width="2.6" height="2.6"/><rect x="306.4" y="191.5" width="2.6" height="2.6"/><rect x="312.0" y="180.3" width="2.6" height="2.6"/><rect x="314.8" y="153.7" width="2.6" height="2.6"/><rect x="317.6" y="163.5" width="2.6" height="2.6"/><rect x="321.8" y="146.7" width="2.6" height="2.6"/><rect x="324.6" y="191.5" width="2.6" height="2.6"/><rect x="327.4" y="156.5" width="2.6" height="2.6"/><rect x="330.2" y="183.1" width="2.6" height="2.6"/><rect x="333.5" y="160.7" width="2.6" height="2.6"/><rect x="337.1" y="144.0" width="2.6" height="2.6"/><rect x="338.1" y="155.2" width="2.6" height="2.6"/><rect x="340.9" y="113.3" width="2.6" height="2.6"/><rect x="342.8" y="166.3" width="2.6" height="2.6"/><rect x="346.5" y="233.4" width="2.6" height="2.6"/><rect x="347.9" y="146.7" width="2.6" height="2.6"/><rect x="352.1" y="177.5" width="2.6" height="2.6"/><rect x="354.9" y="116.0" width="2.6" height="2.6"/><rect x="359.0" y="149.6" width="2.6" height="2.6"/><rect x="364.6" y="236.2" width="2.6" height="2.6"/><rect x="367.4" y="185.9" width="2.6" height="2.6"/><rect x="370.2" y="118.8" width="2.6" height="2.6"/><rect x="373.0" y="216.7" width="2.6" height="2.6"/><rect x="378.6" y="180.3" width="2.6" height="2.6"/><rect x="381.4" y="139.8" width="2.6" height="2.6"/><rect x="384.2" y="222.2" width="2.6" height="2.6"/><rect x="384.3" y="236.2" width="2.6" height="2.6"/><rect x="387.0" y="132.7" width="2.6" height="2.6"/><rect x="388.4" y="183.1" width="2.6" height="2.6"/><rect x="394.0" y="183.1" width="2.6" height="2.6"/><rect x="396.8" y="125.8" width="2.6" height="2.6"/><rect x="398.2" y="157.9" width="2.6" height="2.6"/><rect x="399.5" y="160.7" width="2.6" height="2.6"/><rect x="402.3" y="144.0" width="2.6" height="2.6"/><rect x="405.1" y="163.5" width="2.6" height="2.6"/></g>
<g fill="#1a6fc2"><circle cx="71.6" cy="178.2" r="1.4"/><circle cx="77.7" cy="199.7" r="1.4"/><circle cx="84.2" cy="243.0" r="1.4"/><circle cx="86.1" cy="148.0" r="1.4"/><circle cx="88.0" cy="210.0" r="1.4"/><circle cx="89.5" cy="160.0" r="1.4"/><circle cx="90.6" cy="229.0" r="1.4"/><circle cx="91.7" cy="148.0" r="1.4"/><circle cx="94.0" cy="198.0" r="1.4"/><circle cx="100.0" cy="192.0" r="1.4"/><circle cx="107.3" cy="153.7" r="1.4"/><circle cx="109.3" cy="229.0" r="1.4"/><circle cx="110.7" cy="167.6" r="1.4"/><circle cx="113.5" cy="218.0" r="1.4"/><circle cx="119.6" cy="128.0" r="1.4"/><circle cx="125.5" cy="238.9" r="1.4"/><circle cx="126.9" cy="198.4" r="1.4"/><circle cx="128.8" cy="222.0" r="1.4"/><circle cx="137.0" cy="98.4" r="1.4"/><circle cx="141.0" cy="184.0" r="1.4"/><circle cx="143.8" cy="206.7" r="1.4"/><circle cx="146.6" cy="184.4" r="1.4"/><circle cx="149.4" cy="191.4" r="1.4"/><circle cx="152.2" cy="149.5" r="1.4"/><circle cx="155.0" cy="162.0" r="1.4"/><circle cx="156.3" cy="212.3" r="1.4"/><circle cx="159.1" cy="243.0" r="1.4"/><circle cx="161.9" cy="192.8" r="1.4"/><circle cx="166.1" cy="198.4" r="1.4"/><circle cx="173.1" cy="135.5" r="1.4"/><circle cx="177.3" cy="128.5" r="1.4"/><circle cx="178.7" cy="164.8" r="1.4"/><circle cx="182.9" cy="247.2" r="1.4"/><circle cx="184.3" cy="181.6" r="1.4"/><circle cx="188.5" cy="220.7" r="1.4"/><circle cx="191.3" cy="199.7" r="1.4"/><circle cx="194.0" cy="201.0" r="1.4"/><circle cx="197.7" cy="229.0" r="1.4"/><circle cx="201.0" cy="201.0" r="1.4"/><circle cx="203.8" cy="245.8" r="1.4"/><circle cx="204.2" cy="117.3" r="1.4"/><circle cx="204.8" cy="245.8" r="1.4"/><circle cx="207.6" cy="187.2" r="1.4"/><circle cx="213.2" cy="187.2" r="1.4"/><circle cx="217.4" cy="173.2" r="1.4"/><circle cx="218.8" cy="201.0" r="1.4"/><circle cx="221.6" cy="218.0" r="1.4"/><circle cx="223.0" cy="184.4" r="1.4"/><circle cx="225.7" cy="178.8" r="1.4"/><circle cx="228.5" cy="215.0" r="1.4"/><circle cx="229.9" cy="178.8" r="1.4"/><circle cx="232.7" cy="216.5" r="1.4"/><circle cx="235.0" cy="170.4" r="1.4"/><circle cx="243.6" cy="82.7" r="1.4"/><circle cx="245.3" cy="234.7" r="1.4"/><circle cx="248.1" cy="170.4" r="1.4"/><circle cx="250.9" cy="218.0" r="1.4"/><circle cx="251.5" cy="97.6" r="1.4"/><circle cx="255.1" cy="164.8" r="1.4"/><circle cx="259.3" cy="215.0" r="1.4"/><circle cx="262.0" cy="226.3" r="1.4"/><circle cx="264.8" cy="178.8" r="1.4"/><circle cx="270.0" cy="212.3" r="1.4"/><circle cx="271.4" cy="226.3" r="1.4"/><circle cx="272.8" cy="173.2" r="1.4"/><circle cx="274.2" cy="218.0" r="1.4"/><circle cx="275.6" cy="215.0" r="1.4"/><circle cx="282.6" cy="195.6" r="1.4"/><circle cx="286.8" cy="212.3" r="1.4"/><circle cx="287.3" cy="119.0" r="1.4"/><circle cx="289.0" cy="229.0" r="1.4"/><circle cx="291.0" cy="167.6" r="1.4"/><circle cx="293.6" cy="119.0" r="1.4"/><circle cx="295.1" cy="206.7" r="1.4"/><circle cx="296.5" cy="164.8" r="1.4"/><circle cx="299.3" cy="233.3" r="1.4"/><circle cx="300.7" cy="240.2" r="1.4"/><circle cx="301.3" cy="65.5" r="1.4"/><circle cx="303.5" cy="178.8" r="1.4"/><circle cx="307.7" cy="226.3" r="1.4"/><circle cx="310.5" cy="162.0" r="1.4"/><circle cx="313.3" cy="206.7" r="1.4"/><circle cx="316.1" cy="159.2" r="1.4"/><circle cx="317.5" cy="218.0" r="1.4"/><circle cx="320.3" cy="218.0" r="1.4"/><circle cx="323.1" cy="181.6" r="1.4"/><circle cx="328.7" cy="204.0" r="1.4"/><circle cx="331.5" cy="164.8" r="1.4"/><circle cx="334.2" cy="117.3" r="1.4"/><circle cx="335.5" cy="170.0" r="1.4"/><circle cx="337.3" cy="76.4" r="1.4"/><circle cx="339.4" cy="178.8" r="1.4"/><circle cx="342.2" cy="212.3" r="1.4"/><circle cx="345.0" cy="187.2" r="1.4"/><circle cx="347.8" cy="206.7" r="1.4"/><circle cx="350.6" cy="148.0" r="1.4"/><circle cx="353.4" cy="181.6" r="1.4"/><circle cx="354.8" cy="212.3" r="1.4"/><circle cx="356.4" cy="89.1" r="1.4"/><circle cx="360.3" cy="145.3" r="1.4"/><circle cx="363.1" cy="178.8" r="1.4"/><circle cx="365.9" cy="114.6" r="1.4"/><circle cx="368.7" cy="212.3" r="1.4"/><circle cx="370.1" cy="184.4" r="1.4"/><circle cx="372.9" cy="236.1" r="1.4"/><circle cx="375.7" cy="234.7" r="1.4"/><circle cx="379.9" cy="206.7" r="1.4"/><circle cx="382.7" cy="187.2" r="1.4"/><circle cx="385.5" cy="162.0" r="1.4"/><circle cx="386.9" cy="226.3" r="1.4"/><circle cx="389.7" cy="159.2" r="1.4"/><circle cx="391.1" cy="201.0" r="1.4"/><circle cx="393.9" cy="178.8" r="1.4"/><circle cx="396.7" cy="187.2" r="1.4"/><circle cx="398.1" cy="229.0" r="1.4"/><circle cx="400.8" cy="173.2" r="1.4"/><circle cx="402.8" cy="136.9" r="1.4"/><circle cx="405.0" cy="206.7" r="1.4"/><circle cx="405.1" cy="136.9" r="1.4"/><circle cx="406.5" cy="223.5" r="1.4"/><circle cx="407.3" cy="164.8" r="1.4"/><circle cx="407.9" cy="178.8" r="1.4"/></g>
<g fill="#555"><rect x="72.2" y="183.8" width="2.2" height="3"/><rect x="85.6" y="138.0" width="2.2" height="3"/><rect x="90.1" y="198.0" width="2.2" height="3"/><rect x="94.6" y="167.0" width="2.2" height="3"/><rect x="109.9" y="165.6" width="2.2" height="3"/><rect x="120.2" y="167.0" width="2.2" height="3"/><rect x="134.6" y="182.4" width="2.2" height="3"/><rect x="144.4" y="171.2" width="2.2" height="3"/><rect x="154.2" y="164.2" width="2.2" height="3"/><rect x="162.5" y="241.0" width="2.2" height="3"/><rect x="173.7" y="111.2" width="2.2" height="3"/><rect x="184.9" y="154.5" width="2.2" height="3"/><rect x="193.3" y="174.0" width="2.2" height="3"/><rect x="203.0" y="164.2" width="2.2" height="3"/><rect x="206.8" y="221.5" width="2.2" height="3"/><rect x="218.0" y="168.4" width="2.2" height="3"/><rect x="223.6" y="136.3" width="2.2" height="3"/><rect x="231.9" y="168.4" width="2.2" height="3"/><rect x="244.5" y="217.3" width="2.2" height="3"/><rect x="254.3" y="190.8" width="2.2" height="3"/><rect x="264.1" y="188.0" width="2.2" height="3"/><rect x="273.4" y="165.6" width="2.2" height="3"/><rect x="287.4" y="148.9" width="2.2" height="3"/><rect x="295.7" y="160.0" width="2.2" height="3"/><rect x="304.1" y="147.5" width="2.2" height="3"/><rect x="316.7" y="153.0" width="2.2" height="3"/><rect x="326.5" y="190.8" width="2.2" height="3"/><rect x="335.4" y="160.0" width="2.2" height="3"/><rect x="342.8" y="112.6" width="2.2" height="3"/><rect x="349.8" y="146.0" width="2.2" height="3"/><rect x="360.9" y="148.9" width="2.2" height="3"/><rect x="372.1" y="118.1" width="2.2" height="3"/><rect x="383.3" y="139.1" width="2.2" height="3"/><rect x="388.9" y="132.0" width="2.2" height="3"/><rect x="398.7" y="125.1" width="2.2" height="3"/><rect x="404.2" y="143.3" width="2.2" height="3"/></g>
<line x1="66.5" y1="58.4" x2="188.5" y2="73.6" stroke="#00b050" stroke-width="2.8" stroke-dasharray="9.8 7.4" stroke-dashoffset="6.8"/>
<line x1="188.5" y1="73.6" x2="356" y2="47.0" stroke="#00b050" stroke-width="2.8" stroke-dasharray="9.8 7.4" stroke-dashoffset="1"/>
<line x1="356" y1="47.0" x2="435.8" y2="56.9" stroke="#00b050" stroke-width="2.8" stroke-dasharray="9.9 7.7" stroke-dashoffset="0.5"/>
<text x="174.4" y="91.4" font-size="17" fill="#00b050" font-style="italic" textLength="33" lengthAdjust="spacingAndGlyphs" stroke="#00b050" stroke-width="0.55">terC</text>
<text x="338.7" y="42.0" font-size="17" fill="#00b050" font-style="italic" textLength="31" lengthAdjust="spacingAndGlyphs" stroke="#00b050" stroke-width="0.55">oriC</text>
<rect x="103" y="19" width="126" height="32.3" fill="#fff"/>
<line x1="105.7" y1="49.6" x2="226.0" y2="49.6" stroke="#000" stroke-width="1.6" />
<rect x="109.2" y="39.6" width="11.8" height="8.6" fill="none" stroke="#1aa3d1" stroke-width="1.4"/>
<rect x="212.6" y="39.8" width="11.4" height="7.6" fill="none" stroke="#1aa3d1" stroke-width="1.4"/>
<line x1="127.0" y1="49.6" x2="127.0" y2="38.8" stroke="#000" stroke-width="1.4" />
<circle cx="127.0" cy="35.4" r="3.4" fill="#fff" stroke="#000" stroke-width="1.3"/>
<line x1="203.6" y1="49.6" x2="203.6" y2="38.8" stroke="#000" stroke-width="1.4" />
<circle cx="203.6" cy="35.4" r="3.4" fill="#fff" stroke="#000" stroke-width="1.3"/>
<polyline points="140.5,49.6 140.5,29.6 152.5,29.6" fill="none" stroke="#000" stroke-width="1.4"/>
<polygon points="152,26.8 157,29.6 152,32.4" fill="#000"/>
<polygon points="149,35.9 194,35.9 199.2,42 194,48.1 149,48.1" fill="#12a84a"/>
<text x="154.2" y="44.8" font-size="10" fill="#f4fff4" font-family="Liberation Serif, serif" textLength="28.4" lengthAdjust="spacingAndGlyphs">Em GFP</text>
<text x="108.3" y="32.6" font-size="8.5" fill="#444" font-family="Liberation Serif, serif">0<tspan font-size="5" dy="1.2">1</tspan></text>
<text x="212" y="32.3" font-size="8.5" fill="#444" font-family="Liberation Serif, serif">0<tspan font-size="5" dy="1.2">8</tspan></text>
<text x="131.6" y="26.5" font-size="8" fill="#444" font-family="Liberation Serif, serif" textLength="6.6" lengthAdjust="spacing">p1</text>
<line x1="480.0" y1="204.9" x2="543.7" y2="204.9" stroke="#ebebeb" stroke-width="0.9" />
<line x1="480.0" y1="196.5" x2="543.7" y2="196.5" stroke="#ebebeb" stroke-width="0.9" />
<line x1="480.0" y1="188.0" x2="543.7" y2="188.0" stroke="#ebebeb" stroke-width="0.9" />
<line x1="480.0" y1="179.6" x2="543.7" y2="179.6" stroke="#ebebeb" stroke-width="0.9" />
<line x1="480.0" y1="171.2" x2="543.7" y2="171.2" stroke="#ebebeb" stroke-width="0.9" />
<line x1="480.0" y1="162.7" x2="543.7" y2="162.7" stroke="#ebebeb" stroke-width="0.9" />
<line x1="480.0" y1="154.3" x2="543.7" y2="154.3" stroke="#ebebeb" stroke-width="0.9" />
<line x1="480.0" y1="145.8" x2="543.7" y2="145.8" stroke="#ebebeb" stroke-width="0.9" />
<line x1="480.0" y1="137.4" x2="543.7" y2="137.4" stroke="#ebebeb" stroke-width="0.9" />
<text x="476.8" y="141.1" font-size="10.6" fill="#000" text-anchor="end" textLength="17.8" lengthAdjust="spacingAndGlyphs" >0.04</text>
<text x="476.8" y="174.8" font-size="10.6" fill="#000" text-anchor="end" textLength="17.8" lengthAdjust="spacingAndGlyphs" >0.02</text>
<text x="476.8" y="208.6" font-size="10.6" fill="#000" text-anchor="end" >0</text>
<text x="452.1" y="171.7" font-size="11.2" fill="#000" text-anchor="middle" textLength="20.3" lengthAdjust="spacingAndGlyphs" transform="rotate(-90 452.1 171.7)" >TPC</text>
<line x1="501.7" y1="167.2" x2="501.7" y2="203.2" stroke="#1b6fc2" stroke-width="1.3" />
<rect x="494.1" y="185.9" width="15.3" height="12.7" fill="#1b6fc2"/>
<line x1="499.3" y1="167.2" x2="504.1" y2="167.2" stroke="#1b6fc2" stroke-width="1" />
<line x1="499.5" y1="203.2" x2="503.9" y2="203.2" stroke="#1b6fc2" stroke-width="1" />
<rect x="500.9" y="136.6" width="1.7" height="1.6" fill="#3b8fd6"/>
<rect x="500.9" y="143.79999999999998" width="1.7" height="1.6" fill="#3b8fd6"/>
<rect x="500.9" y="145.79999999999998" width="1.7" height="1.6" fill="#3b8fd6"/>
<rect x="500.9" y="151.0" width="1.7" height="1.6" fill="#3b8fd6"/>
<rect x="500.9" y="158.79999999999998" width="1.7" height="1.6" fill="#3b8fd6"/>
<rect x="500.9" y="160.39999999999998" width="1.7" height="1.6" fill="#3b8fd6"/>
<rect x="500.9" y="162.0" width="1.7" height="1.6" fill="#3b8fd6"/>
<line x1="518.6" y1="155.4" x2="518.6" y2="202.6" stroke="#ff0000" stroke-width="1.3" />
<rect x="510.9" y="178" width="15.5" height="15.8" fill="#ff0000"/>
<line x1="516.0" y1="155.4" x2="521.2" y2="155.4" stroke="#ff0000" stroke-width="1" />
<line x1="516.2" y1="202.6" x2="521.0" y2="202.6" stroke="#ff0000" stroke-width="1" />
<rect x="517.8" y="144.2" width="1.7" height="1.6" fill="#ff3030"/>
<rect x="517.8" y="148.79999999999998" width="1.7" height="1.6" fill="#ff3030"/>
<rect x="517.8" y="151.0" width="1.7" height="1.6" fill="#ff3030"/>
<text x="12" y="358.9" font-size="19.5" fill="#000" font-weight="bold" >B</text>
<line x1="204.9" y1="324.2" x2="375.5" y2="324.2" stroke="#e3e3e3" stroke-width="0.8" />
<line x1="204.9" y1="346.4" x2="375.5" y2="346.4" stroke="#e3e3e3" stroke-width="0.8" />
<line x1="204.9" y1="368.6" x2="375.5" y2="368.6" stroke="#e3e3e3" stroke-width="0.8" />
<line x1="204.9" y1="390.8" x2="375.5" y2="390.8" stroke="#e3e3e3" stroke-width="0.8" />
<line x1="204.9" y1="324.2" x2="204.9" y2="390.8" stroke="#e3e3e3" stroke-width="0.8" />
<line x1="239.0" y1="324.2" x2="239.0" y2="390.8" stroke="#e3e3e3" stroke-width="0.8" />
<line x1="273.1" y1="324.2" x2="273.1" y2="390.8" stroke="#e3e3e3" stroke-width="0.8" />
<line x1="307.3" y1="324.2" x2="307.3" y2="390.8" stroke="#e3e3e3" stroke-width="0.8" />
<line x1="341.4" y1="324.2" x2="341.4" y2="390.8" stroke="#e3e3e3" stroke-width="0.8" />
<line x1="375.5" y1="324.2" x2="375.5" y2="390.8" stroke="#e3e3e3" stroke-width="0.8" />
<text x="198.4" y="349" font-size="9.8" fill="#000" text-anchor="end" textLength="12.6" lengthAdjust="spacingAndGlyphs" >0.1</text>
<text x="198.6" y="394.3" font-size="9.8" fill="#000" text-anchor="end" textLength="22.2" lengthAdjust="spacingAndGlyphs" >0.001</text>
<text x="177.4" y="365.2" font-size="9.4" fill="#000" text-anchor="middle" textLength="14.4" lengthAdjust="spacingAndGlyphs" transform="rotate(-90 177.4 365.2)" >TPC</text>
<text x="205.5" y="399.8" font-size="9.6" fill="#000" text-anchor="middle" >0</text>
<text x="273.74" y="399.8" font-size="9.6" fill="#000" text-anchor="middle" >2</text>
<text x="341.98" y="399.8" font-size="9.6" fill="#000" text-anchor="middle" >4</text>
<text x="290" y="411.4" font-size="9.5" fill="#000" text-anchor="middle" textLength="73.3" lengthAdjust="spacingAndGlyphs" >Genomic loci (MB)</text>
<g fill="#f02020"><rect x="325.2" y="361.3" width="1.6" height="1.6"/><rect x="208.0" y="368.4" width="1.6" height="1.6"/><rect x="295.8" y="369.7" width="1.6" height="1.6"/><rect x="228.7" y="366.8" width="1.6" height="1.6"/><rect x="249.8" y="369.6" width="1.6" height="1.6"/><rect x="341.1" y="358.9" width="1.6" height="1.6"/><rect x="300.3" y="362.5" width="1.6" height="1.6"/><rect x="275.6" y="369.8" width="1.6" height="1.6"/><rect x="313.7" y="365.5" width="1.6" height="1.6"/><rect x="303.3" y="358.9" width="1.6" height="1.6"/><rect x="352.8" y="367.6" width="1.6" height="1.6"/><rect x="227.3" y="375.5" width="1.6" height="1.6"/><rect x="229.6" y="375.5" width="1.6" height="1.6"/><rect x="263.9" y="361.2" width="1.6" height="1.6"/><rect x="332.1" y="357.3" width="1.6" height="1.6"/><rect x="326.1" y="365.2" width="1.6" height="1.6"/><rect x="254.8" y="370.2" width="1.6" height="1.6"/><rect x="242.4" y="371.0" width="1.6" height="1.6"/><rect x="251.0" y="362.5" width="1.6" height="1.6"/><rect x="277.8" y="372.2" width="1.6" height="1.6"/><rect x="342.2" y="380.4" width="1.6" height="1.6"/><rect x="352.8" y="357.5" width="1.6" height="1.6"/><rect x="327.5" y="368.6" width="1.6" height="1.6"/><rect x="207.5" y="360.8" width="1.6" height="1.6"/><rect x="255.1" y="363.8" width="1.6" height="1.6"/><rect x="252.8" y="371.6" width="1.6" height="1.6"/><rect x="336.1" y="364.3" width="1.6" height="1.6"/><rect x="210.4" y="372.1" width="1.6" height="1.6"/><rect x="242.1" y="369.2" width="1.6" height="1.6"/><rect x="209.8" y="366.9" width="1.6" height="1.6"/><rect x="352.5" y="358.7" width="1.6" height="1.6"/><rect x="214.9" y="369.7" width="1.6" height="1.6"/><rect x="289.9" y="381.6" width="1.6" height="1.6"/><rect x="329.6" y="364.7" width="1.6" height="1.6"/><rect x="293.3" y="369.0" width="1.6" height="1.6"/><rect x="232.8" y="369.6" width="1.6" height="1.6"/><rect x="351.7" y="371.9" width="1.6" height="1.6"/><rect x="350.2" y="369.1" width="1.6" height="1.6"/><rect x="227.8" y="357.2" width="1.6" height="1.6"/><rect x="269.6" y="372.4" width="1.6" height="1.6"/><rect x="207.9" y="378.3" width="1.6" height="1.6"/><rect x="217.8" y="360.1" width="1.6" height="1.6"/><rect x="277.6" y="357.4" width="1.6" height="1.6"/><rect x="314.5" y="358.9" width="1.6" height="1.6"/><rect x="209.4" y="364.6" width="1.6" height="1.6"/><rect x="325.4" y="360.3" width="1.6" height="1.6"/><rect x="217.3" y="365.1" width="1.6" height="1.6"/><rect x="223.8" y="363.8" width="1.6" height="1.6"/><rect x="304.0" y="366.2" width="1.6" height="1.6"/><rect x="219.1" y="366.4" width="1.6" height="1.6"/><rect x="316.5" y="354.8" width="1.6" height="1.6"/><rect x="315.0" y="357.2" width="1.6" height="1.6"/><rect x="320.4" y="381.8" width="1.6" height="1.6"/><rect x="270.9" y="352.1" width="1.6" height="1.6"/><rect x="255.4" y="366.2" width="1.6" height="1.6"/><rect x="350.4" y="358.7" width="1.6" height="1.6"/><rect x="333.1" y="357.3" width="1.6" height="1.6"/><rect x="286.7" y="374.6" width="1.6" height="1.6"/><rect x="223.3" y="370.6" width="1.6" height="1.6"/><rect x="289.4" y="371.1" width="1.6" height="1.6"/><rect x="328.4" y="366.2" width="1.6" height="1.6"/><rect x="350.4" y="373.4" width="1.6" height="1.6"/><rect x="328.1" y="360.7" width="1.6" height="1.6"/><rect x="341.5" y="361.4" width="1.6" height="1.6"/><rect x="275.4" y="364.4" width="1.6" height="1.6"/><rect x="305.4" y="357.1" width="1.6" height="1.6"/><rect x="240.9" y="368.5" width="1.6" height="1.6"/><rect x="263.7" y="364.6" width="1.6" height="1.6"/><rect x="310.5" y="358.4" width="1.6" height="1.6"/><rect x="320.9" y="371.3" width="1.6" height="1.6"/><rect x="347.2" y="369.3" width="1.6" height="1.6"/><rect x="259.4" y="357.5" width="1.6" height="1.6"/><rect x="285.3" y="371.1" width="1.6" height="1.6"/><rect x="249.3" y="382.4" width="1.6" height="1.6"/><rect x="228.2" y="374.4" width="1.6" height="1.6"/><rect x="247.3" y="378.6" width="1.6" height="1.6"/><rect x="274.2" y="359.3" width="1.6" height="1.6"/><rect x="251.1" y="375.3" width="1.6" height="1.6"/><rect x="266.7" y="372.4" width="1.6" height="1.6"/><rect x="215.6" y="367.2" width="1.6" height="1.6"/><rect x="302.9" y="359.0" width="1.6" height="1.6"/><rect x="350.3" y="367.5" width="1.6" height="1.6"/><rect x="263.3" y="362.2" width="1.6" height="1.6"/><rect x="260.5" y="362.4" width="1.6" height="1.6"/><rect x="334.4" y="361.3" width="1.6" height="1.6"/><rect x="255.1" y="358.0" width="1.6" height="1.6"/><rect x="352.9" y="354.1" width="1.6" height="1.6"/><rect x="361.1" y="369.2" width="1.6" height="1.6"/><rect x="302.8" y="374.6" width="1.6" height="1.6"/><rect x="228.0" y="363.2" width="1.6" height="1.6"/><rect x="295.3" y="357.3" width="1.6" height="1.6"/><rect x="264.8" y="360.1" width="1.6" height="1.6"/><rect x="208.6" y="361.6" width="1.6" height="1.6"/><rect x="359.8" y="355.0" width="1.6" height="1.6"/><rect x="353.4" y="367.0" width="1.6" height="1.6"/><rect x="317.5" y="364.5" width="1.6" height="1.6"/><rect x="263.5" y="365.2" width="1.6" height="1.6"/><rect x="249.0" y="365.8" width="1.6" height="1.6"/><rect x="335.0" y="367.4" width="1.6" height="1.6"/><rect x="312.3" y="365.5" width="1.6" height="1.6"/><rect x="288.1" y="365.3" width="1.6" height="1.6"/><rect x="311.9" y="375.8" width="1.6" height="1.6"/><rect x="293.3" y="364.9" width="1.6" height="1.6"/><rect x="346.7" y="367.9" width="1.6" height="1.6"/><rect x="266.2" y="367.8" width="1.6" height="1.6"/><rect x="219.9" y="369.5" width="1.6" height="1.6"/><rect x="360.4" y="370.3" width="1.6" height="1.6"/><rect x="255.5" y="372.4" width="1.6" height="1.6"/><rect x="328.4" y="362.5" width="1.6" height="1.6"/><rect x="295.0" y="367.1" width="1.6" height="1.6"/><rect x="221.3" y="357.6" width="1.6" height="1.6"/><rect x="312.7" y="358.1" width="1.6" height="1.6"/><rect x="237.0" y="373.6" width="1.6" height="1.6"/><rect x="299.2" y="367.3" width="1.6" height="1.6"/><rect x="331.7" y="357.1" width="1.6" height="1.6"/><rect x="312.5" y="376.2" width="1.6" height="1.6"/><rect x="266.0" y="356.7" width="1.6" height="1.6"/><rect x="302.9" y="359.5" width="1.6" height="1.6"/><rect x="265.5" y="373.6" width="1.6" height="1.6"/><rect x="276.4" y="367.1" width="1.6" height="1.6"/><rect x="352.2" y="373.3" width="1.6" height="1.6"/><rect x="239.7" y="360.7" width="1.6" height="1.6"/><rect x="219.1" y="370.5" width="1.6" height="1.6"/><rect x="277.5" y="362.7" width="1.6" height="1.6"/><rect x="284.7" y="365.4" width="1.6" height="1.6"/></g>
<g fill="#3a95dc"><rect x="206.9" y="374.0" width="1.6" height="1.6"/><rect x="270.0" y="374.7" width="1.6" height="1.6"/><rect x="238.3" y="367.4" width="1.6" height="1.6"/><rect x="305.9" y="374.7" width="1.6" height="1.6"/><rect x="295.8" y="366.8" width="1.6" height="1.6"/><rect x="342.5" y="370.7" width="1.6" height="1.6"/><rect x="333.2" y="357.3" width="1.6" height="1.6"/><rect x="248.7" y="371.4" width="1.6" height="1.6"/><rect x="224.5" y="363.2" width="1.6" height="1.6"/><rect x="229.7" y="369.2" width="1.6" height="1.6"/><rect x="256.4" y="363.7" width="1.6" height="1.6"/><rect x="333.8" y="374.2" width="1.6" height="1.6"/><rect x="237.7" y="365.8" width="1.6" height="1.6"/><rect x="240.5" y="367.5" width="1.6" height="1.6"/><rect x="207.3" y="376.8" width="1.6" height="1.6"/><rect x="334.8" y="371.3" width="1.6" height="1.6"/><rect x="310.7" y="376.7" width="1.6" height="1.6"/><rect x="362.2" y="376.1" width="1.6" height="1.6"/><rect x="350.2" y="370.0" width="1.6" height="1.6"/><rect x="212.7" y="355.4" width="1.6" height="1.6"/><rect x="281.7" y="368.1" width="1.6" height="1.6"/><rect x="311.6" y="372.7" width="1.6" height="1.6"/><rect x="213.9" y="378.8" width="1.6" height="1.6"/><rect x="233.0" y="383.9" width="1.6" height="1.6"/><rect x="288.2" y="382.1" width="1.6" height="1.6"/><rect x="332.9" y="366.1" width="1.6" height="1.6"/><rect x="302.9" y="376.0" width="1.6" height="1.6"/><rect x="218.4" y="365.7" width="1.6" height="1.6"/><rect x="316.1" y="376.2" width="1.6" height="1.6"/><rect x="267.1" y="366.3" width="1.6" height="1.6"/><rect x="252.8" y="360.2" width="1.6" height="1.6"/><rect x="282.1" y="382.3" width="1.6" height="1.6"/><rect x="232.9" y="365.7" width="1.6" height="1.6"/><rect x="212.7" y="376.9" width="1.6" height="1.6"/><rect x="295.3" y="370.5" width="1.6" height="1.6"/><rect x="274.5" y="372.7" width="1.6" height="1.6"/><rect x="312.6" y="364.3" width="1.6" height="1.6"/><rect x="321.8" y="365.7" width="1.6" height="1.6"/><rect x="347.8" y="380.2" width="1.6" height="1.6"/><rect x="342.3" y="369.0" width="1.6" height="1.6"/><rect x="213.1" y="364.0" width="1.6" height="1.6"/><rect x="246.2" y="374.0" width="1.6" height="1.6"/><rect x="213.3" y="372.8" width="1.6" height="1.6"/><rect x="355.5" y="372.5" width="1.6" height="1.6"/><rect x="234.4" y="361.8" width="1.6" height="1.6"/><rect x="264.5" y="367.6" width="1.6" height="1.6"/><rect x="213.2" y="378.4" width="1.6" height="1.6"/><rect x="351.5" y="363.4" width="1.6" height="1.6"/><rect x="316.8" y="370.3" width="1.6" height="1.6"/><rect x="230.6" y="363.4" width="1.6" height="1.6"/><rect x="295.4" y="371.6" width="1.6" height="1.6"/><rect x="290.2" y="358.0" width="1.6" height="1.6"/><rect x="358.8" y="370.2" width="1.6" height="1.6"/><rect x="299.7" y="370.3" width="1.6" height="1.6"/><rect x="313.8" y="375.4" width="1.6" height="1.6"/><rect x="206.7" y="371.7" width="1.6" height="1.6"/><rect x="359.6" y="384.7" width="1.6" height="1.6"/><rect x="224.6" y="374.9" width="1.6" height="1.6"/><rect x="315.3" y="372.5" width="1.6" height="1.6"/><rect x="258.1" y="375.0" width="1.6" height="1.6"/><rect x="216.9" y="380.5" width="1.6" height="1.6"/><rect x="237.8" y="368.1" width="1.6" height="1.6"/><rect x="349.2" y="368.1" width="1.6" height="1.6"/><rect x="358.4" y="368.8" width="1.6" height="1.6"/><rect x="217.9" y="370.1" width="1.6" height="1.6"/><rect x="208.0" y="363.6" width="1.6" height="1.6"/><rect x="347.6" y="374.3" width="1.6" height="1.6"/><rect x="343.0" y="384.1" width="1.6" height="1.6"/><rect x="316.4" y="367.1" width="1.6" height="1.6"/><rect x="335.4" y="362.8" width="1.6" height="1.6"/><rect x="243.5" y="381.8" width="1.6" height="1.6"/><rect x="289.7" y="369.9" width="1.6" height="1.6"/><rect x="298.3" y="373.1" width="1.6" height="1.6"/><rect x="307.9" y="366.7" width="1.6" height="1.6"/><rect x="335.2" y="376.5" width="1.6" height="1.6"/><rect x="348.4" y="369.3" width="1.6" height="1.6"/><rect x="341.4" y="380.1" width="1.6" height="1.6"/><rect x="207.5" y="362.3" width="1.6" height="1.6"/><rect x="272.0" y="360.8" width="1.6" height="1.6"/><rect x="258.6" y="379.2" width="1.6" height="1.6"/><rect x="342.1" y="365.8" width="1.6" height="1.6"/><rect x="306.3" y="371.6" width="1.6" height="1.6"/><rect x="264.0" y="375.6" width="1.6" height="1.6"/><rect x="213.5" y="375.2" width="1.6" height="1.6"/><rect x="337.2" y="387.5" width="1.6" height="1.6"/><rect x="331.9" y="356.0" width="1.6" height="1.6"/><rect x="283.6" y="369.2" width="1.6" height="1.6"/><rect x="317.3" y="366.4" width="1.6" height="1.6"/><rect x="255.7" y="373.6" width="1.6" height="1.6"/><rect x="294.9" y="372.3" width="1.6" height="1.6"/><rect x="264.0" y="370.7" width="1.6" height="1.6"/><rect x="292.4" y="372.0" width="1.6" height="1.6"/><rect x="284.9" y="365.8" width="1.6" height="1.6"/><rect x="338.2" y="370.4" width="1.6" height="1.6"/><rect x="324.8" y="379.2" width="1.6" height="1.6"/><rect x="249.7" y="375.7" width="1.6" height="1.6"/><rect x="245.9" y="365.4" width="1.6" height="1.6"/><rect x="334.7" y="368.2" width="1.6" height="1.6"/><rect x="325.7" y="366.8" width="1.6" height="1.6"/><rect x="316.8" y="373.7" width="1.6" height="1.6"/><rect x="349.9" y="371.9" width="1.6" height="1.6"/><rect x="276.7" y="367.2" width="1.6" height="1.6"/><rect x="324.9" y="369.1" width="1.6" height="1.6"/><rect x="255.8" y="370.3" width="1.6" height="1.6"/><rect x="316.5" y="368.5" width="1.6" height="1.6"/><rect x="264.3" y="379.3" width="1.6" height="1.6"/><rect x="340.0" y="353.7" width="1.6" height="1.6"/><rect x="264.6" y="365.5" width="1.6" height="1.6"/><rect x="245.5" y="372.4" width="1.6" height="1.6"/><rect x="211.8" y="365.8" width="1.6" height="1.6"/><rect x="309.5" y="372.4" width="1.6" height="1.6"/><rect x="221.7" y="363.1" width="1.6" height="1.6"/><rect x="230.3" y="368.1" width="1.6" height="1.6"/><rect x="276.1" y="367.0" width="1.6" height="1.6"/><rect x="357.1" y="371.0" width="1.6" height="1.6"/><rect x="241.9" y="375.2" width="1.6" height="1.6"/><rect x="257.0" y="387.0" width="1.6" height="1.6"/><rect x="286.0" y="374.7" width="1.6" height="1.6"/><rect x="209.5" y="369.2" width="1.6" height="1.6"/><rect x="320.2" y="360.7" width="1.6" height="1.6"/><rect x="314.2" y="372.6" width="1.6" height="1.6"/><rect x="208.2" y="367.0" width="1.6" height="1.6"/><rect x="273.4" y="366.9" width="1.6" height="1.6"/><rect x="354.2" y="375.3" width="1.6" height="1.6"/><rect x="263.4" y="375.8" width="1.6" height="1.6"/><rect x="265.8" y="346.3" width="1.6" height="1.6"/><rect x="333.0" y="353.8" width="1.6" height="1.6"/><rect x="346.3" y="346.7" width="1.6" height="1.6"/><rect x="349.5" y="352.0" width="1.6" height="1.6"/><rect x="230.8" y="352.5" width="1.6" height="1.6"/><rect x="218.4" y="349.1" width="1.6" height="1.6"/><rect x="264.8" y="351.2" width="1.6" height="1.6"/><rect x="328.4" y="354.5" width="1.6" height="1.6"/></g>
<g fill="#f5a462" stroke="#f07c2c" stroke-width="1.3"><circle cx="279.4" cy="348.6" r="1.5"/><circle cx="280.5" cy="350.5" r="1.5"/><circle cx="278.8" cy="352.5" r="1.5"/><circle cx="280.2" cy="354.5" r="1.5"/><circle cx="279.0" cy="356.5" r="1.5"/><circle cx="280.6" cy="358.5" r="1.5"/><circle cx="278.5" cy="359.5" r="1.5"/><circle cx="340.3" cy="340.4" r="1.5"/><circle cx="345.1" cy="337.3" r="1.5"/><circle cx="347.5" cy="338.7" r="1.5"/><circle cx="349.2" cy="343.3" r="1.5"/><circle cx="338.9" cy="349.7" r="1.5"/><circle cx="342.0" cy="352.0" r="1.5"/><circle cx="346.3" cy="352.8" r="1.5"/></g>
<g fill="#8fd0f0" stroke="#2aa6e2" stroke-width="1.3"><circle cx="279.4" cy="361.7" r="1.5"/><circle cx="280.6" cy="363.5" r="1.5"/><circle cx="278.6" cy="365.5" r="1.5"/><circle cx="280.4" cy="367.5" r="1.5"/><circle cx="279.2" cy="369.5" r="1.5"/><circle cx="280.8" cy="370.7" r="1.5"/><circle cx="339.9" cy="358.0" r="1.5"/><circle cx="345.4" cy="356.3" r="1.5"/><circle cx="346.3" cy="350.2" r="1.5"/><circle cx="348.0" cy="347.6" r="1.5"/><circle cx="349.2" cy="346.3" r="1.5"/></g>
<line x1="69.5" y1="431.8" x2="257.5" y2="431.8" stroke="#d9d9d9" stroke-width="1" />
<line x1="69.5" y1="471.7" x2="257.5" y2="471.7" stroke="#d9d9d9" stroke-width="1" />
<line x1="69.5" y1="511.5" x2="257.5" y2="511.5" stroke="#d9d9d9" stroke-width="1" />
<line x1="69.5" y1="551.4" x2="257.5" y2="551.4" stroke="#d9d9d9" stroke-width="1" />
<line x1="69.5" y1="431.8" x2="69.5" y2="551.4" stroke="#d9d9d9" stroke-width="1" />
<line x1="107.1" y1="431.8" x2="107.1" y2="551.4" stroke="#d9d9d9" stroke-width="1" />
<line x1="144.7" y1="431.8" x2="144.7" y2="551.4" stroke="#d9d9d9" stroke-width="1" />
<line x1="182.3" y1="431.8" x2="182.3" y2="551.4" stroke="#d9d9d9" stroke-width="1" />
<line x1="219.9" y1="431.8" x2="219.9" y2="551.4" stroke="#d9d9d9" stroke-width="1" />
<line x1="257.5" y1="431.8" x2="257.5" y2="551.4" stroke="#d9d9d9" stroke-width="1" />
<text x="59.2" y="435.6" font-size="14.8" fill="#000" text-anchor="end" >1</text>
<text x="59.2" y="474.6" font-size="14.8" fill="#000" text-anchor="end" textLength="18.2" lengthAdjust="spacingAndGlyphs" >0.1</text>
<text x="59.2" y="514.6" font-size="14.8" fill="#000" text-anchor="end" textLength="26.9" lengthAdjust="spacingAndGlyphs" >0.01</text>
<text x="59.2" y="554.6" font-size="14.8" fill="#000" text-anchor="end" textLength="33.7" lengthAdjust="spacingAndGlyphs" >0.001</text>
<text x="71.1" y="569.8" font-size="14.8" fill="#000" text-anchor="middle" textLength="19.5" lengthAdjust="spacingAndGlyphs" >2.0</text>
<text x="108.70000000000003" y="569.8" font-size="14.8" fill="#000" text-anchor="middle" textLength="19.5" lengthAdjust="spacingAndGlyphs" >2.1</text>
<text x="146.30000000000007" y="569.8" font-size="14.8" fill="#000" text-anchor="middle" textLength="19.5" lengthAdjust="spacingAndGlyphs" >2.2</text>
<text x="183.89999999999992" y="569.8" font-size="14.8" fill="#000" text-anchor="middle" textLength="19.5" lengthAdjust="spacingAndGlyphs" >2.3</text>
<text x="221.49999999999997" y="569.8" font-size="14.8" fill="#000" text-anchor="middle" textLength="19.5" lengthAdjust="spacingAndGlyphs" >2.4</text>
<text x="259.1" y="569.8" font-size="14.8" fill="#000" text-anchor="middle" textLength="19.5" lengthAdjust="spacingAndGlyphs" >2.5</text>
<text x="21.9" y="494" font-size="15.8" fill="#000" text-anchor="middle" textLength="26.6" lengthAdjust="spacingAndGlyphs" transform="rotate(-90 21.9 494)" >TPC</text>
<text x="263.4" y="598.2" font-size="16.5" fill="#000" text-anchor="middle" textLength="127" lengthAdjust="spacingAndGlyphs" >Genomic loci (MB)</text>
<line x1="297.9" y1="432.3" x2="482.8" y2="432.3" stroke="#d9d9d9" stroke-width="1" />
<line x1="297.9" y1="471.7" x2="482.8" y2="471.7" stroke="#d9d9d9" stroke-width="1" />
<line x1="297.9" y1="511.2" x2="482.8" y2="511.2" stroke="#d9d9d9" stroke-width="1" />
<line x1="297.9" y1="550.6" x2="482.8" y2="550.6" stroke="#d9d9d9" stroke-width="1" />
<line x1="297.9" y1="432.3" x2="297.9" y2="550.6" stroke="#d9d9d9" stroke-width="1" />
<line x1="339.0" y1="432.3" x2="339.0" y2="550.6" stroke="#d9d9d9" stroke-width="1" />
<line x1="380.1" y1="432.3" x2="380.1" y2="550.6" stroke="#d9d9d9" stroke-width="1" />
<line x1="421.2" y1="432.3" x2="421.2" y2="550.6" stroke="#d9d9d9" stroke-width="1" />
<line x1="462.3" y1="432.3" x2="462.3" y2="550.6" stroke="#d9d9d9" stroke-width="1" />
<line x1="482.8" y1="432.3" x2="482.8" y2="550.6" stroke="#d9d9d9" stroke-width="1" />
<text x="299.9" y="569.8" font-size="14.8" fill="#000" text-anchor="middle" textLength="19.5" lengthAdjust="spacingAndGlyphs" >3.7</text>
<text x="340.9888888888888" y="569.8" font-size="14.8" fill="#000" text-anchor="middle" textLength="19.5" lengthAdjust="spacingAndGlyphs" >3.9</text>
<text x="382.07777777777767" y="569.8" font-size="14.8" fill="#000" text-anchor="middle" textLength="19.5" lengthAdjust="spacingAndGlyphs" >4.1</text>
<text x="423.1666666666666" y="569.8" font-size="14.8" fill="#000" text-anchor="middle" textLength="19.5" lengthAdjust="spacingAndGlyphs" >4.3</text>
<text x="464.2555555555555" y="569.8" font-size="14.8" fill="#000" text-anchor="middle" textLength="19.5" lengthAdjust="spacingAndGlyphs" >4.5</text>
<path d="M71.5,507.4V524.6M70.0,507.4h3M70.0,524.6h3M81.5,514.1V521.6M80.0,514.1h3M80.0,521.6h3M82.9,498.7V516.1M81.4,498.7h3M81.4,516.1h3M88.7,503.5V513.1M87.2,503.5h3M87.2,513.1h3M106.9,513.8V525.2M105.4,513.8h3M105.4,525.2h3M107.8,504.1V518.6M106.3,504.1h3M106.3,518.6h3M112.0,485.5V499.6M110.5,485.5h3M110.5,499.6h3M132.9,521.1V532.7M131.4,521.1h3M131.4,532.7h3M138.2,499.0V510.7M136.7,499.0h3M136.7,510.7h3M140.2,498.6V507.2M138.7,498.6h3M138.7,507.2h3M145.7,505.5V517.6M144.2,505.5h3M144.2,517.6h3M165.4,497.4V507.2M163.9,497.4h3M163.9,507.2h3M216.2,525.8V538.6M214.7,525.8h3M214.7,538.6h3M221.6,524.6V534.4M220.1,524.6h3M220.1,534.4h3M222.1,516.4V532.1M220.6,516.4h3M220.6,532.1h3M228.8,512.2V530.1M227.3,512.2h3M227.3,530.1h3M241.1,499.2V514.4M239.6,499.2h3M239.6,514.4h3M252.3,524.3V542.1M250.8,524.3h3M250.8,542.1h3M252.8,512.0V523.9M251.3,512.0h3M251.3,523.9h3M254.6,491.7V501.7M253.1,491.7h3M253.1,501.7h3M258.6,491.8V503.8M257.1,491.8h3M257.1,503.8h3M71.5,511.9V522.6M70.0,511.9h3M70.0,522.6h3M82.0,520.2V536.9M80.5,520.2h3M80.5,536.9h3M83.3,515.5V530.1M81.8,515.5h3M81.8,530.1h3M88.7,516.8V530.2M87.2,516.8h3M87.2,530.2h3M106.9,525.3V538.9M105.4,525.3h3M105.4,538.9h3M107.8,504.0V520.9M106.3,504.0h3M106.3,520.9h3M112.4,508.7V519.3M110.9,508.7h3M110.9,519.3h3M131.5,508.2V519.9M130.0,508.2h3M130.0,519.9h3M133.5,524.8V535.7M132.0,524.8h3M132.0,535.7h3M140.8,511.3V523.9M139.3,511.3h3M139.3,523.9h3M140.2,500.2V510.5M138.7,500.2h3M138.7,510.5h3M146.7,512.8V531.0M145.2,512.8h3M145.2,531.0h3M166.4,524.0V540.7M164.9,524.0h3M164.9,540.7h3M168.4,507.1V516.2M166.9,507.1h3M166.9,516.2h3M215.6,457.1V472.6M214.1,457.1h3M214.1,472.6h3M221.6,524.4V534.1M220.1,524.4h3M220.1,534.1h3M222.1,535.3V544.0M220.6,535.3h3M220.6,544.0h3M222.5,523.7V538.4M221.0,523.7h3M221.0,538.4h3M228.8,517.2V534.9M227.3,517.2h3M227.3,534.9h3M241.1,519.2V530.3M239.6,519.2h3M239.6,530.3h3M242.7,497.0V513.4M241.2,497.0h3M241.2,513.4h3M252.3,529.4V538.4M250.8,529.4h3M250.8,538.4h3M252.8,527.0V541.6M251.3,527.0h3M251.3,541.6h3M254.6,464.0V478.1M253.1,464.0h3M253.1,478.1h3M258.6,472.1V487.7M257.1,472.1h3M257.1,487.7h3" stroke="#a6a6a6" stroke-width="0.8" fill="none"/>
<path d="M299.9,501.8V510.8M298.4,501.8h3M298.4,510.8h3M301.9,498.1V513.4M300.4,498.1h3M300.4,513.4h3M302.8,512.0V525.1M301.3,512.0h3M301.3,525.1h3M303.4,472.2V488.4M301.9,472.2h3M301.9,488.4h3M304.8,513.0V524.1M303.3,513.0h3M303.3,524.1h3M309.7,496.8V515.2M308.2,496.8h3M308.2,515.2h3M316.6,489.2V506.8M315.1,489.2h3M315.1,506.8h3M317.0,531.6V547.1M315.5,531.6h3M315.5,547.1h3M318.6,513.3V523.5M317.1,513.3h3M317.1,523.5h3M326.5,488.5V504.0M325.0,488.5h3M325.0,504.0h3M331.4,508.8V517.9M329.9,508.8h3M329.9,517.9h3M338.9,508.2V517.2M337.4,508.2h3M337.4,517.2h3M339.7,477.0V486.3M338.2,477.0h3M338.2,486.3h3M356.0,503.2V512.6M354.5,503.2h3M354.5,512.6h3M357.0,489.4V504.9M355.5,489.4h3M355.5,504.9h3M362.9,498.0V507.3M361.4,498.0h3M361.4,507.3h3M367.9,531.8V546.7M366.4,531.8h3M366.4,546.7h3M370.8,499.8V517.2M369.3,499.8h3M369.3,517.2h3M372.3,501.7V513.8M370.8,501.7h3M370.8,513.8h3M374.9,498.9V511.2M373.4,498.9h3M373.4,511.2h3M382.8,500.6V509.1M381.3,500.6h3M381.3,509.1h3M383.4,477.6V488.5M381.9,477.6h3M381.9,488.5h3M389.7,523.8V538.9M388.2,523.8h3M388.2,538.9h3M404.5,508.4V516.9M403.0,508.4h3M403.0,516.9h3M416.3,503.0V520.4M414.8,503.0h3M414.8,520.4h3M417.3,487.8V497.6M415.8,487.8h3M415.8,497.6h3M418.9,532.3V547.2M417.4,532.3h3M417.4,547.2h3M419.7,489.2V502.8M418.2,489.2h3M418.2,502.8h3M420.0,492.1V500.8M418.5,492.1h3M418.5,500.8h3M425.9,525.2V540.9M424.4,525.2h3M424.4,540.9h3M427.9,482.3V495.0M426.4,482.3h3M426.4,495.0h3M428.9,508.0V524.2M427.4,508.0h3M427.4,524.2h3M431.8,498.3V509.9M430.3,498.3h3M430.3,509.9h3M434.8,492.9V510.6M433.3,492.9h3M433.3,510.6h3M438.1,504.8V521.9M436.6,504.8h3M436.6,521.9h3M453.9,511.0V528.5M452.4,511.0h3M452.4,528.5h3M455.1,496.7V509.2M453.6,496.7h3M453.6,509.2h3M457.1,480.2V490.7M455.6,480.2h3M455.6,490.7h3M457.9,522.3V536.9M456.4,522.3h3M456.4,536.9h3M461.4,511.5V529.4M459.9,511.5h3M459.9,529.4h3M463.8,503.0V510.6M462.3,503.0h3M462.3,510.6h3M299.9,514.9V524.6M298.4,514.9h3M298.4,524.6h3M301.5,515.8V526.5M300.0,515.8h3M300.0,526.5h3M302.8,510.8V521.1M301.3,510.8h3M301.3,521.1h3M303.8,520.7V534.5M302.3,520.7h3M302.3,534.5h3M308.7,511.5V523.0M307.2,511.5h3M307.2,523.0h3M311.7,476.4V496.8M310.2,476.4h3M310.2,496.8h3M313.7,490.0V499.4M312.2,490.0h3M312.2,499.4h3M316.6,511.7V527.7M315.1,511.7h3M315.1,527.7h3M318.6,519.6V534.6M317.1,519.6h3M317.1,534.6h3M326.5,488.2V502.8M325.0,488.2h3M325.0,502.8h3M331.4,517.3V525.7M329.9,517.3h3M329.9,525.7h3M338.9,522.6V530.4M337.4,522.6h3M337.4,530.4h3M339.7,463.4V471.2M338.2,463.4h3M338.2,471.2h3M357.0,482.6V493.4M355.5,482.6h3M355.5,493.4h3M363.3,505.7V515.5M361.8,505.7h3M361.8,515.5h3M368.8,472.8V492.2M367.3,472.8h3M367.3,492.2h3M372.0,527.3V536.5M370.5,527.3h3M370.5,536.5h3M373.5,499.3V516.8M372.0,499.3h3M372.0,516.8h3M375.9,512.3V527.0M374.4,512.3h3M374.4,527.0h3M382.8,505.4V523.3M381.3,505.4h3M381.3,523.3h3M383.8,512.5V524.2M382.3,512.5h3M382.3,524.2h3M389.7,531.9V546.9M388.2,531.9h3M388.2,546.9h3M404.5,521.5V535.0M403.0,521.5h3M403.0,535.0h3M416.3,511.8V522.0M414.8,511.8h3M414.8,522.0h3M418.3,508.3V521.6M416.8,508.3h3M416.8,521.6h3M420.0,509.4V526.0M418.5,509.4h3M418.5,526.0h3M425.9,513.5V527.6M424.4,513.5h3M424.4,527.6h3M427.5,530.5V538.7M426.0,530.5h3M426.0,538.7h3M428.9,500.2V510.4M427.4,500.2h3M427.4,510.4h3M430.8,493.3V510.9M429.3,493.3h3M429.3,510.9h3M434.8,487.6V503.8M433.3,487.6h3M433.3,503.8h3M436.2,494.3V511.5M434.7,494.3h3M434.7,511.5h3M438.1,517.2V528.1M436.6,517.2h3M436.6,528.1h3M453.1,501.0V517.0M451.6,501.0h3M451.6,517.0h3M455.1,502.8V510.6M453.6,502.8h3M453.6,510.6h3M456.5,529.8V544.1M455.0,529.8h3M455.0,544.1h3M458.5,527.0V539.2M457.0,527.0h3M457.0,539.2h3M460.4,528.1V542.7M458.9,528.1h3M458.9,542.7h3M463.0,504.2V516.8M461.5,504.2h3M461.5,516.8h3" stroke="#a6a6a6" stroke-width="0.8" fill="none"/>
<path d="M133.5,483.7V492.9M132.0,483.7h3M132.0,492.9h3M132.3,490.4V500.3M130.8,490.4h3M130.8,500.3h3M139.4,485.5V493.6M137.9,485.5h3M137.9,493.6h3M137.8,489.6V495.9M136.3,489.6h3M136.3,495.9h3M141.4,488.7V496.9M139.9,488.7h3M139.9,496.9h3M142.8,477.3V486.0M141.3,477.3h3M141.3,486.0h3M149.3,478.3V488.9M147.8,478.3h3M147.8,488.9h3M147.7,482.7V492.4M146.2,482.7h3M146.2,492.4h3M150.7,482.7V491.8M149.2,482.7h3M149.2,491.8h3M153.2,483.9V492.7M151.7,483.9h3M151.7,492.7h3M156.6,472.9V479.3M155.1,472.9h3M155.1,479.3h3M159.9,475.3V482.9M158.4,475.3h3M158.4,482.9h3M161.5,477.6V486.3M160.0,477.6h3M160.0,486.3h3M163.9,475.2V482.5M162.4,475.2h3M162.4,482.5h3M166.4,486.7V494.3M164.9,486.7h3M164.9,494.3h3M163.5,479.2V486.3M162.0,479.2h3M162.0,486.3h3M139.4,494.8V503.3M137.9,494.8h3M137.9,503.3h3M137.8,501.4V508.7M136.3,501.4h3M136.3,508.7h3M132.9,507.9V516.4M131.4,507.9h3M131.4,516.4h3M133.9,509.1V516.9M132.4,509.1h3M132.4,516.9h3M141.8,504.9V515.2M140.3,504.9h3M140.3,515.2h3M142.8,511.5V518.9M141.3,511.5h3M141.3,518.9h3M149.3,511.8V520.8M147.8,511.8h3M147.8,520.8h3M151.6,506.7V514.4M150.1,506.7h3M150.1,514.4h3M154.6,505.9V513.6M153.1,505.9h3M153.1,513.6h3M157.6,504.3V512.7M156.1,504.3h3M156.1,512.7h3M159.9,500.9V509.0M158.4,500.9h3M158.4,509.0h3M161.5,504.3V512.7M160.0,504.3h3M160.0,512.7h3M163.9,494.4V505.3M162.4,494.4h3M162.4,505.3h3M163.5,508.9V514.8M162.0,508.9h3M162.0,514.8h3M166.4,508.2V517.6M164.9,508.2h3M164.9,517.6h3M147.7,513.8V521.8M146.2,513.8h3M146.2,521.8h3M357.0,456.1V464.6M355.5,456.1h3M355.5,464.6h3M350.1,472.3V482.4M348.6,472.3h3M348.6,482.4h3M365.9,476.5V484.4M364.4,476.5h3M364.4,484.4h3M368.5,479.9V486.5M367.0,479.9h3M367.0,486.5h3M391.3,451.5V458.5M389.8,451.5h3M389.8,458.5h3M401.5,454.3V460.3M400.0,454.3h3M400.0,460.3h3M411.8,461.8V469.6M410.3,461.8h3M410.3,469.6h3M393.2,478.7V488.4M391.7,478.7h3M391.7,488.4h3M350.1,488.9V495.2M348.6,488.9h3M348.6,495.2h3M357.0,488.4V496.0M355.5,488.4h3M355.5,496.0h3M367.9,476.9V487.1M366.4,476.9h3M366.4,487.1h3M393.2,474.3V483.3M391.7,474.3h3M391.7,483.3h3M391.3,485.2V493.5M389.8,485.2h3M389.8,493.5h3M401.5,470.8V478.2M400.0,470.8h3M400.0,478.2h3M411.8,468.0V474.2M410.3,468.0h3M410.3,474.2h3" stroke="#a6a6a6" stroke-width="0.8" fill="none"/>
<path d="M133.3,505V551M131.8,505h3M131.8,551h3M137.4,500V545M135.9,500h3M135.9,545h3M140.4,503V551M138.9,503h3M138.9,551h3M142.2,508V541M140.7,508h3M140.7,541h3M146.5,512V530M145.0,512h3M145.0,530h3M150.5,505V520M149.0,505h3M149.0,520h3M158,498V522M156.5,498h3M156.5,522h3M164,500V520M162.5,500h3M162.5,520h3" stroke="#a0a0a0" stroke-width="1" fill="none"/>
<polyline points="71.5,516.0 81.5,518.2 82.9,507.6 88.7,508.7 106.9,519.6 107.8,511.8 112.0,491.8 132.9,527.3 138.2,505.1 140.2,502.7 145.7,511.0 165.4,502.7 216.2,532.1 221.6,529.4 222.1,523.6 228.8,520.8 241.1,507.4 252.3,532.1 252.8,518.2 254.6,496.9 258.6,497.8" fill="none" stroke="#ff1010" stroke-width="1.4" stroke-linejoin="round"/>
<g fill="#ff1010"><rect x="70.4" y="514.9" width="2.2" height="2.2"/><rect x="80.4" y="517.1" width="2.2" height="2.2"/><rect x="81.8" y="506.5" width="2.2" height="2.2"/><rect x="87.6" y="507.6" width="2.2" height="2.2"/><rect x="105.8" y="518.5" width="2.2" height="2.2"/><rect x="106.7" y="510.7" width="2.2" height="2.2"/><rect x="110.9" y="490.7" width="2.2" height="2.2"/><rect x="131.8" y="526.2" width="2.2" height="2.2"/><rect x="137.1" y="504.0" width="2.2" height="2.2"/><rect x="139.1" y="501.6" width="2.2" height="2.2"/><rect x="144.6" y="509.9" width="2.2" height="2.2"/><rect x="164.3" y="501.6" width="2.2" height="2.2"/><rect x="215.1" y="531.0" width="2.2" height="2.2"/><rect x="220.5" y="528.3" width="2.2" height="2.2"/><rect x="221.0" y="522.5" width="2.2" height="2.2"/><rect x="227.7" y="519.7" width="2.2" height="2.2"/><rect x="240.0" y="506.3" width="2.2" height="2.2"/><rect x="251.2" y="531.0" width="2.2" height="2.2"/><rect x="251.7" y="517.1" width="2.2" height="2.2"/><rect x="253.5" y="495.8" width="2.2" height="2.2"/><rect x="257.5" y="496.7" width="2.2" height="2.2"/></g>
<polyline points="299.9,506.0 301.9,505.0 302.8,517.8 303.4,481.0 304.8,518.8 309.7,505.0 316.6,497.1 317.0,538.5 318.6,518.8 326.5,496.2 331.4,512.9 338.9,512.9 339.7,481.4 356.0,508.0 357.0,496.2 362.9,502.1 367.9,539.5 370.8,508.0 372.3,508.0 374.9,505.1 382.8,505.1 383.4,483.0 389.7,530.7 404.5,513.0 416.3,511.4 417.3,492.9 418.9,539.6 419.7,495.2 420.0,496.2 425.9,532.7 427.9,489.3 428.9,516.9 431.8,504.1 434.8,501.1 438.1,513.0 453.9,519.9 455.1,502.7 457.1,485.8 457.9,529.7 461.4,519.9 463.8,507.1" fill="none" stroke="#ff1010" stroke-width="1.4" stroke-linejoin="round"/>
<g fill="#ff1010"><rect x="298.8" y="504.9" width="2.2" height="2.2"/><rect x="300.8" y="503.9" width="2.2" height="2.2"/><rect x="301.7" y="516.7" width="2.2" height="2.2"/><rect x="302.3" y="479.9" width="2.2" height="2.2"/><rect x="303.7" y="517.7" width="2.2" height="2.2"/><rect x="308.6" y="503.9" width="2.2" height="2.2"/><rect x="315.5" y="496.0" width="2.2" height="2.2"/><rect x="315.9" y="537.4" width="2.2" height="2.2"/><rect x="317.5" y="517.7" width="2.2" height="2.2"/><rect x="325.4" y="495.1" width="2.2" height="2.2"/><rect x="330.3" y="511.8" width="2.2" height="2.2"/><rect x="337.8" y="511.8" width="2.2" height="2.2"/><rect x="338.6" y="480.3" width="2.2" height="2.2"/><rect x="354.9" y="506.9" width="2.2" height="2.2"/><rect x="355.9" y="495.1" width="2.2" height="2.2"/><rect x="361.8" y="501.0" width="2.2" height="2.2"/><rect x="366.8" y="538.4" width="2.2" height="2.2"/><rect x="369.7" y="506.9" width="2.2" height="2.2"/><rect x="371.2" y="506.9" width="2.2" height="2.2"/><rect x="373.8" y="504.0" width="2.2" height="2.2"/><rect x="381.7" y="504.0" width="2.2" height="2.2"/><rect x="382.3" y="481.9" width="2.2" height="2.2"/><rect x="388.6" y="529.6" width="2.2" height="2.2"/><rect x="403.4" y="511.9" width="2.2" height="2.2"/><rect x="415.2" y="510.3" width="2.2" height="2.2"/><rect x="416.2" y="491.8" width="2.2" height="2.2"/><rect x="417.8" y="538.5" width="2.2" height="2.2"/><rect x="418.6" y="494.1" width="2.2" height="2.2"/><rect x="418.9" y="495.1" width="2.2" height="2.2"/><rect x="424.8" y="531.6" width="2.2" height="2.2"/><rect x="426.8" y="488.2" width="2.2" height="2.2"/><rect x="427.8" y="515.8" width="2.2" height="2.2"/><rect x="430.7" y="503.0" width="2.2" height="2.2"/><rect x="433.7" y="500.0" width="2.2" height="2.2"/><rect x="437.0" y="511.9" width="2.2" height="2.2"/><rect x="452.8" y="518.8" width="2.2" height="2.2"/><rect x="454.0" y="501.6" width="2.2" height="2.2"/><rect x="456.0" y="484.7" width="2.2" height="2.2"/><rect x="456.8" y="528.6" width="2.2" height="2.2"/><rect x="460.3" y="518.8" width="2.2" height="2.2"/><rect x="462.7" y="506.0" width="2.2" height="2.2"/></g>
<polyline points="71.5,516.7 82.0,529.1 83.3,522.7 88.7,523.3 106.9,531.5 107.8,512.7 112.4,514.5 131.5,514.2 133.5,529.7 140.8,517.9 140.2,505.1 146.7,520.9 166.4,531.7 168.4,512.0 215.6,464.4 221.6,529.4 222.1,539.4 222.5,530.3 228.8,525.8 241.1,524.9 242.7,504.2 252.3,533.9 252.8,534.8 254.6,471.3 258.6,478.9" fill="none" stroke="#1f76c6" stroke-width="1.4" stroke-linejoin="round"/>
<g fill="#1a6fc2"><circle cx="71.5" cy="516.7" r="1.2"/><circle cx="82.0" cy="529.1" r="1.2"/><circle cx="83.3" cy="522.7" r="1.2"/><circle cx="88.7" cy="523.3" r="1.2"/><circle cx="106.9" cy="531.5" r="1.2"/><circle cx="107.8" cy="512.7" r="1.2"/><circle cx="112.4" cy="514.5" r="1.2"/><circle cx="131.5" cy="514.2" r="1.2"/><circle cx="133.5" cy="529.7" r="1.2"/><circle cx="140.8" cy="517.9" r="1.2"/><circle cx="140.2" cy="505.1" r="1.2"/><circle cx="146.7" cy="520.9" r="1.2"/><circle cx="166.4" cy="531.7" r="1.2"/><circle cx="168.4" cy="512.0" r="1.2"/><circle cx="215.6" cy="464.4" r="1.2"/><circle cx="221.6" cy="529.4" r="1.2"/><circle cx="222.1" cy="539.4" r="1.2"/><circle cx="222.5" cy="530.3" r="1.2"/><circle cx="228.8" cy="525.8" r="1.2"/><circle cx="241.1" cy="524.9" r="1.2"/><circle cx="242.7" cy="504.2" r="1.2"/><circle cx="252.3" cy="533.9" r="1.2"/><circle cx="252.8" cy="534.8" r="1.2"/><circle cx="254.6" cy="471.3" r="1.2"/><circle cx="258.6" cy="478.9" r="1.2"/></g>
<polyline points="299.9,519.8 301.5,520.8 302.8,515.9 303.8,526.7 308.7,517.8 311.7,485.3 313.7,494.2 316.6,518.8 318.6,526.7 326.5,496.2 331.4,521.8 338.9,526.7 339.7,467.6 357.0,488.3 363.3,510.0 368.8,481.4 372.0,531.7 373.5,508.0 375.9,518.9 382.8,514.0 383.8,517.9 389.7,539.6 404.5,527.8 416.3,516.9 418.3,515.0 420.0,517.9 425.9,519.9 427.5,534.7 428.9,505.1 430.8,502.1 434.8,496.2 436.2,503.1 438.1,522.8 453.1,509.4 455.1,507.1 456.5,536.6 458.5,532.7 460.4,534.7 463.0,510.0" fill="none" stroke="#1f76c6" stroke-width="1.4" stroke-linejoin="round"/>
<g fill="#1a6fc2"><circle cx="299.9" cy="519.8" r="1.2"/><circle cx="301.5" cy="520.8" r="1.2"/><circle cx="302.8" cy="515.9" r="1.2"/><circle cx="303.8" cy="526.7" r="1.2"/><circle cx="308.7" cy="517.8" r="1.2"/><circle cx="311.7" cy="485.3" r="1.2"/><circle cx="313.7" cy="494.2" r="1.2"/><circle cx="316.6" cy="518.8" r="1.2"/><circle cx="318.6" cy="526.7" r="1.2"/><circle cx="326.5" cy="496.2" r="1.2"/><circle cx="331.4" cy="521.8" r="1.2"/><circle cx="338.9" cy="526.7" r="1.2"/><circle cx="339.7" cy="467.6" r="1.2"/><circle cx="357.0" cy="488.3" r="1.2"/><circle cx="363.3" cy="510.0" r="1.2"/><circle cx="368.8" cy="481.4" r="1.2"/><circle cx="372.0" cy="531.7" r="1.2"/><circle cx="373.5" cy="508.0" r="1.2"/><circle cx="375.9" cy="518.9" r="1.2"/><circle cx="382.8" cy="514.0" r="1.2"/><circle cx="383.8" cy="517.9" r="1.2"/><circle cx="389.7" cy="539.6" r="1.2"/><circle cx="404.5" cy="527.8" r="1.2"/><circle cx="416.3" cy="516.9" r="1.2"/><circle cx="418.3" cy="515.0" r="1.2"/><circle cx="420.0" cy="517.9" r="1.2"/><circle cx="425.9" cy="519.9" r="1.2"/><circle cx="427.5" cy="534.7" r="1.2"/><circle cx="428.9" cy="505.1" r="1.2"/><circle cx="430.8" cy="502.1" r="1.2"/><circle cx="434.8" cy="496.2" r="1.2"/><circle cx="436.2" cy="503.1" r="1.2"/><circle cx="438.1" cy="522.8" r="1.2"/><circle cx="453.1" cy="509.4" r="1.2"/><circle cx="455.1" cy="507.1" r="1.2"/><circle cx="456.5" cy="536.6" r="1.2"/><circle cx="458.5" cy="532.7" r="1.2"/><circle cx="460.4" cy="534.7" r="1.2"/><circle cx="463.0" cy="510.0" r="1.2"/></g>
<g fill="#ff1010"><rect x="131.1" y="485.3" width="4.8" height="4.8"/><rect x="129.9" y="492.4" width="4.8" height="4.8"/><rect x="137.0" y="486.9" width="4.8" height="4.8"/><rect x="135.4" y="490.5" width="4.8" height="4.8"/><rect x="139.0" y="490.5" width="4.8" height="4.8"/><rect x="140.4" y="479.6" width="4.8" height="4.8"/><rect x="146.9" y="480.6" width="4.8" height="4.8"/><rect x="145.3" y="485.3" width="4.8" height="4.8"/><rect x="148.3" y="484.6" width="4.8" height="4.8"/><rect x="150.8" y="485.9" width="4.8" height="4.8"/><rect x="154.2" y="473.7" width="4.8" height="4.8"/><rect x="157.5" y="477.0" width="4.8" height="4.8"/><rect x="159.1" y="479.0" width="4.8" height="4.8"/><rect x="161.5" y="476.1" width="4.8" height="4.8"/><rect x="164.0" y="487.9" width="4.8" height="4.8"/><rect x="161.1" y="480.0" width="4.8" height="4.8"/><rect x="354.6" y="457.9" width="4.8" height="4.8"/><rect x="347.7" y="474.6" width="4.8" height="4.8"/><rect x="363.5" y="478.0" width="4.8" height="4.8"/><rect x="366.1" y="480.6" width="4.8" height="4.8"/><rect x="388.9" y="453.0" width="4.8" height="4.8"/><rect x="399.1" y="455.0" width="4.8" height="4.8"/><rect x="409.4" y="463.2" width="4.8" height="4.8"/><rect x="390.8" y="480.6" width="4.8" height="4.8"/></g>
<g fill="#1f74c8"><rect x="137.0" y="496.8" width="4.8" height="4.8"/><rect x="135.4" y="502.7" width="4.8" height="4.8"/><rect x="130.5" y="509.6" width="4.8" height="4.8"/><rect x="131.5" y="511.0" width="4.8" height="4.8"/><rect x="139.4" y="507.0" width="4.8" height="4.8"/><rect x="140.4" y="512.9" width="4.8" height="4.8"/><rect x="146.9" y="513.5" width="4.8" height="4.8"/><rect x="149.2" y="508.2" width="4.8" height="4.8"/><rect x="152.2" y="507.0" width="4.8" height="4.8"/><rect x="155.2" y="505.6" width="4.8" height="4.8"/><rect x="157.5" y="502.7" width="4.8" height="4.8"/><rect x="159.1" y="505.6" width="4.8" height="4.8"/><rect x="161.5" y="496.8" width="4.8" height="4.8"/><rect x="161.1" y="509.6" width="4.8" height="4.8"/><rect x="164.0" y="510.6" width="4.8" height="4.8"/><rect x="145.3" y="515.5" width="4.8" height="4.8"/><rect x="347.7" y="489.8" width="4.8" height="4.8"/><rect x="354.6" y="489.8" width="4.8" height="4.8"/><rect x="365.5" y="479.0" width="4.8" height="4.8"/><rect x="390.8" y="476.1" width="4.8" height="4.8"/><rect x="388.9" y="487.3" width="4.8" height="4.8"/><rect x="399.1" y="472.1" width="4.8" height="4.8"/><rect x="409.4" y="468.8" width="4.8" height="4.8"/></g>
<path d="M134.5,432.2V437.5" stroke="#00b050" stroke-width="1.6"/><polygon points="132.3,436.6 136.7,436.6 134.5,441" fill="#00b050"/>
<path d="M161.8,432.2V437.5" stroke="#00b050" stroke-width="1.6"/><polygon points="159.60000000000002,436.6 164.0,436.6 161.8,441" fill="#00b050"/>
<path d="M349,432.2V437.5" stroke="#00b050" stroke-width="1.6"/><polygon points="346.8,436.6 351.2,436.6 349,441" fill="#00b050"/>
<path d="M362.3,432.2V437.5" stroke="#00b050" stroke-width="1.6"/><polygon points="360.1,436.6 364.5,436.6 362.3,441" fill="#00b050"/>
<path d="M393.8,432.2V437.5" stroke="#00b050" stroke-width="1.6"/><polygon points="391.6,436.6 396.0,436.6 393.8,441" fill="#00b050"/>
<path d="M402.8,432.2V437.5" stroke="#00b050" stroke-width="1.6"/><polygon points="400.6,436.6 405.0,436.6 402.8,441" fill="#00b050"/>
<line x1="279.0" y1="371.0" x2="166.4" y2="431.3" stroke="#000" stroke-width="1.6" />
<line x1="340.0" y1="358.3" x2="384.4" y2="433.3" stroke="#000" stroke-width="1.6" />
</svg></body></html>
